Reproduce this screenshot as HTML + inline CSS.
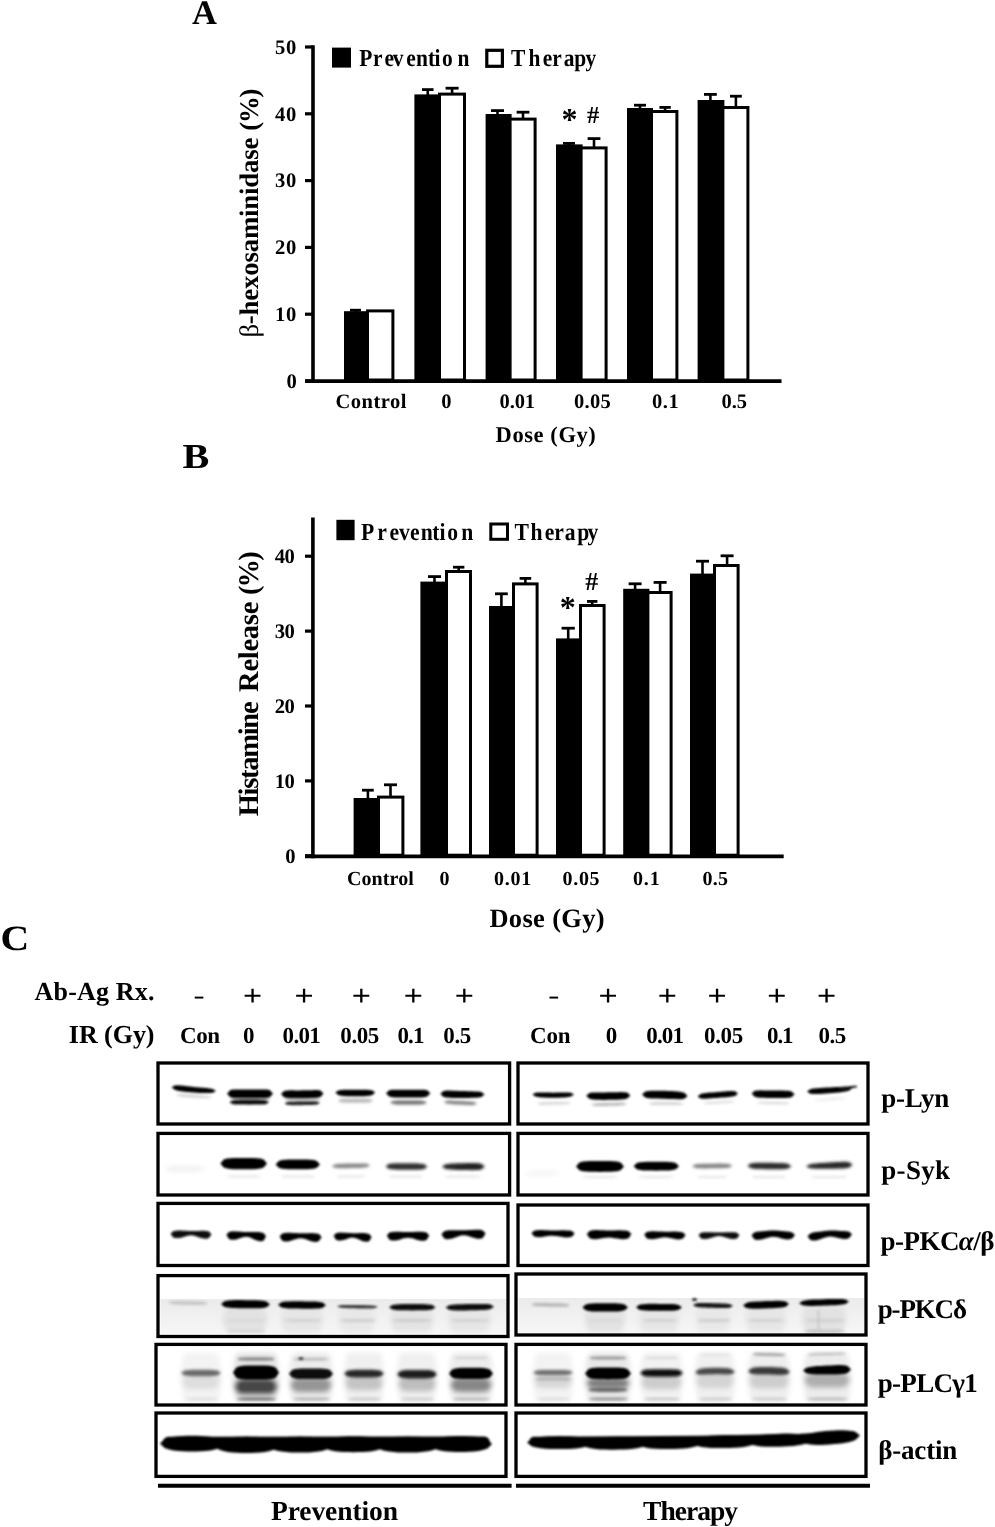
<!DOCTYPE html>
<html lang="en"><head><meta charset="utf-8"><title>Figure</title><style>html,body{margin:0;padding:0;background:#fff}svg{display:block}text{fill:#000;white-space:pre}</style></head>
<body>
<svg width="995" height="1527" viewBox="0 0 995 1527" text-rendering="geometricPrecision">
<defs><filter id="b1" filterUnits="userSpaceOnUse" x="140" y="1050" width="740" height="440"><feGaussianBlur stdDeviation="0.9"/></filter><filter id="b2" filterUnits="userSpaceOnUse" x="140" y="1050" width="740" height="440"><feGaussianBlur stdDeviation="1.5"/></filter><filter id="b3" filterUnits="userSpaceOnUse" x="140" y="1050" width="740" height="440"><feGaussianBlur stdDeviation="2.4"/></filter><filter id="bt" filterUnits="userSpaceOnUse" x="0" y="0" width="995" height="1527"><feGaussianBlur stdDeviation="0.45"/></filter><linearGradient id="gg" x1="0" y1="0" x2="0" y2="1"><stop offset="0" stop-color="#ebebeb"/><stop offset="0.5" stop-color="#f1f1f1"/><stop offset="1" stop-color="#f6f6f6"/></linearGradient></defs>
<rect x="0.00" y="0.00" width="995.00" height="1527.00" fill="#fff"/>
<g filter="url(#bt)">
<text x="192.10" y="24.00" style="font-family:'Liberation Serif',serif;font-weight:bold;font-size:34.50px;letter-spacing:0.000px;">A</text>
<text x="-0.00" y="0" style="font-family:'Liberation Serif',serif;font-weight:bold;font-size:35.00px;letter-spacing:0.000px;" transform="translate(182.40,467.80) scale(1.150,1)">B</text>
<text x="-0.00" y="0" style="font-family:'Liberation Serif',serif;font-weight:bold;font-size:35.50px;letter-spacing:0.000px;" transform="translate(0.60,950.20) scale(1.120,1)">C</text>
<g>
<rect x="344.00" y="311.20" width="25.00" height="70.00" fill="#000"/>
<rect x="367.50" y="310.90" width="25.40" height="69.10" fill="#fff" stroke="#000" stroke-width="3.0"/>
<line x1="355.50" y1="312.20" x2="355.50" y2="310.20" stroke="#000" stroke-width="2.6" stroke-linecap="butt"/>
<line x1="350.00" y1="310.20" x2="361.00" y2="310.20" stroke="#000" stroke-width="2.8" stroke-linecap="butt"/>
<rect x="414.40" y="94.40" width="26.60" height="286.80" fill="#000"/>
<rect x="439.50" y="94.10" width="25.00" height="285.90" fill="#fff" stroke="#000" stroke-width="3.0"/>
<line x1="427.75" y1="95.40" x2="427.75" y2="89.60" stroke="#000" stroke-width="2.6" stroke-linecap="butt"/>
<line x1="422.00" y1="89.60" x2="433.50" y2="89.60" stroke="#000" stroke-width="2.8" stroke-linecap="butt"/>
<line x1="452.10" y1="93.60" x2="452.10" y2="88.20" stroke="#000" stroke-width="2.6" stroke-linecap="butt"/>
<line x1="445.60" y1="88.20" x2="458.60" y2="88.20" stroke="#000" stroke-width="2.8" stroke-linecap="butt"/>
<rect x="485.60" y="114.00" width="26.00" height="267.20" fill="#000"/>
<rect x="510.10" y="119.10" width="25.00" height="260.90" fill="#fff" stroke="#000" stroke-width="3.0"/>
<line x1="497.50" y1="115.00" x2="497.50" y2="110.60" stroke="#000" stroke-width="2.6" stroke-linecap="butt"/>
<line x1="491.00" y1="110.60" x2="504.00" y2="110.60" stroke="#000" stroke-width="2.8" stroke-linecap="butt"/>
<line x1="523.00" y1="118.60" x2="523.00" y2="112.20" stroke="#000" stroke-width="2.6" stroke-linecap="butt"/>
<line x1="516.60" y1="112.20" x2="529.40" y2="112.20" stroke="#000" stroke-width="2.8" stroke-linecap="butt"/>
<rect x="556.00" y="144.40" width="26.60" height="236.80" fill="#000"/>
<rect x="581.10" y="147.90" width="25.00" height="232.10" fill="#fff" stroke="#000" stroke-width="3.0"/>
<line x1="569.00" y1="145.40" x2="569.00" y2="143.40" stroke="#000" stroke-width="2.6" stroke-linecap="butt"/>
<line x1="563.00" y1="143.40" x2="575.00" y2="143.40" stroke="#000" stroke-width="2.8" stroke-linecap="butt"/>
<line x1="594.00" y1="147.40" x2="594.00" y2="138.60" stroke="#000" stroke-width="2.6" stroke-linecap="butt"/>
<line x1="587.60" y1="138.60" x2="600.40" y2="138.60" stroke="#000" stroke-width="2.8" stroke-linecap="butt"/>
<rect x="627.00" y="108.00" width="26.00" height="273.20" fill="#000"/>
<rect x="651.50" y="111.50" width="25.40" height="268.50" fill="#fff" stroke="#000" stroke-width="3.0"/>
<line x1="640.00" y1="109.00" x2="640.00" y2="105.20" stroke="#000" stroke-width="2.6" stroke-linecap="butt"/>
<line x1="634.00" y1="105.20" x2="646.00" y2="105.20" stroke="#000" stroke-width="2.8" stroke-linecap="butt"/>
<line x1="665.10" y1="111.00" x2="665.10" y2="107.40" stroke="#000" stroke-width="2.6" stroke-linecap="butt"/>
<line x1="659.40" y1="107.40" x2="670.80" y2="107.40" stroke="#000" stroke-width="2.8" stroke-linecap="butt"/>
<rect x="697.60" y="100.00" width="26.80" height="281.20" fill="#000"/>
<rect x="722.90" y="107.50" width="25.00" height="272.50" fill="#fff" stroke="#000" stroke-width="3.0"/>
<line x1="710.40" y1="101.00" x2="710.40" y2="94.40" stroke="#000" stroke-width="2.6" stroke-linecap="butt"/>
<line x1="704.00" y1="94.40" x2="716.80" y2="94.40" stroke="#000" stroke-width="2.8" stroke-linecap="butt"/>
<line x1="735.90" y1="107.00" x2="735.90" y2="96.20" stroke="#000" stroke-width="2.6" stroke-linecap="butt"/>
<line x1="730.00" y1="96.20" x2="741.80" y2="96.20" stroke="#000" stroke-width="2.8" stroke-linecap="butt"/>
<line x1="313.00" y1="45.20" x2="313.00" y2="383.00" stroke="#000" stroke-width="3.6" stroke-linecap="butt"/>
<line x1="305.00" y1="381.20" x2="781.50" y2="381.20" stroke="#000" stroke-width="3.8" stroke-linecap="butt"/>
<line x1="305.00" y1="47.00" x2="313.00" y2="47.00" stroke="#000" stroke-width="3.2" stroke-linecap="butt"/>
<text x="275.00" y="53.80" style="font-family:'Liberation Serif',serif;font-weight:bold;font-size:20.60px;letter-spacing:0.600px;">50</text>
<line x1="305.00" y1="113.80" x2="313.00" y2="113.80" stroke="#000" stroke-width="3.2" stroke-linecap="butt"/>
<text x="275.00" y="120.60" style="font-family:'Liberation Serif',serif;font-weight:bold;font-size:20.60px;letter-spacing:0.600px;">40</text>
<line x1="305.00" y1="180.60" x2="313.00" y2="180.60" stroke="#000" stroke-width="3.2" stroke-linecap="butt"/>
<text x="275.00" y="187.40" style="font-family:'Liberation Serif',serif;font-weight:bold;font-size:20.60px;letter-spacing:0.600px;">30</text>
<line x1="305.00" y1="247.40" x2="313.00" y2="247.40" stroke="#000" stroke-width="3.2" stroke-linecap="butt"/>
<text x="275.00" y="254.20" style="font-family:'Liberation Serif',serif;font-weight:bold;font-size:20.60px;letter-spacing:0.600px;">20</text>
<line x1="305.00" y1="314.20" x2="313.00" y2="314.20" stroke="#000" stroke-width="3.2" stroke-linecap="butt"/>
<text x="275.00" y="321.00" style="font-family:'Liberation Serif',serif;font-weight:bold;font-size:20.60px;letter-spacing:0.600px;">10</text>
<line x1="305.00" y1="381.00" x2="313.00" y2="381.00" stroke="#000" stroke-width="3.2" stroke-linecap="butt"/>
<text x="286.40" y="387.80" style="font-family:'Liberation Serif',serif;font-weight:bold;font-size:20.60px;letter-spacing:0.000px;">0</text>
</g>
<rect x="332.00" y="47.60" width="19.00" height="20.00" fill="#000"/>
<text x="0.00 15.80 28.86 38.18 53.52 64.43 78.18 85.68 93.98 111.70" y="0" style="font-family:'Liberation Serif',serif;font-weight:bold;font-size:24.40px;" transform="translate(359.20,65.60) scale(0.880,1)">Prevention</text>
<rect x="486.80" y="50.30" width="15.60" height="16.00" fill="#fff" stroke="#000" stroke-width="3.2"/>
<text x="0.00 20.00 36.02 46.82 60.00 71.93 84.55" y="0" style="font-family:'Liberation Serif',serif;font-weight:bold;font-size:24.40px;" transform="translate(511.00,65.60) scale(0.880,1)">Therapy</text>
<text x="561.40" y="130.00" style="font-family:'Liberation Serif',serif;font-weight:bold;font-size:32.00px;letter-spacing:0.000px;">*</text>
<text x="587.00" y="122.50" style="font-family:'Liberation Serif',serif;font-weight:bold;font-size:24.50px;letter-spacing:0.000px;">#</text>
<text x="335.60" y="407.80" style="font-family:'Liberation Serif',serif;font-weight:bold;font-size:20.50px;letter-spacing:0.474px;">Control</text>
<text x="441.20" y="407.80" style="font-family:'Liberation Serif',serif;font-weight:bold;font-size:20.50px;letter-spacing:0.000px;">0</text>
<text x="499.60" y="407.80" style="font-family:'Liberation Serif',serif;font-weight:bold;font-size:20.50px;letter-spacing:-0.158px;">0.01</text>
<text x="574.00" y="407.80" style="font-family:'Liberation Serif',serif;font-weight:bold;font-size:20.50px;letter-spacing:0.308px;">0.05</text>
<text x="652.00" y="407.80" style="font-family:'Liberation Serif',serif;font-weight:bold;font-size:20.50px;letter-spacing:0.538px;">0.1</text>
<text x="721.40" y="407.80" style="font-family:'Liberation Serif',serif;font-weight:bold;font-size:20.50px;letter-spacing:-0.012px;">0.5</text>
<text x="495.60" y="441.70" style="font-family:'Liberation Serif',serif;font-weight:bold;font-size:22.50px;letter-spacing:0.572px;">Dose (Gy)</text>
<text x="-0.00" y="0" style="font-family:'Liberation Serif',serif;font-weight:bold;font-size:26.80px;letter-spacing:-0.185px;" transform="translate(258.20,337.60) rotate(-90)"><tspan style="font-weight:normal">β</tspan>-hexosaminidase</text>
<text x="-0.00" y="0" style="font-family:'Liberation Serif',serif;font-weight:bold;font-size:26.80px;letter-spacing:-1.161px;" transform="translate(258.20,130.80) rotate(-90)">(%)</text>
<g>
<rect x="353.60" y="798.00" width="26.40" height="58.40" fill="#000"/>
<rect x="378.50" y="797.10" width="24.40" height="58.10" fill="#fff" stroke="#000" stroke-width="3.0"/>
<line x1="367.90" y1="799.00" x2="367.90" y2="790.20" stroke="#000" stroke-width="2.6" stroke-linecap="butt"/>
<line x1="362.00" y1="790.20" x2="373.80" y2="790.20" stroke="#000" stroke-width="2.8" stroke-linecap="butt"/>
<line x1="390.50" y1="796.60" x2="390.50" y2="784.80" stroke="#000" stroke-width="2.6" stroke-linecap="butt"/>
<line x1="384.00" y1="784.80" x2="397.00" y2="784.80" stroke="#000" stroke-width="2.8" stroke-linecap="butt"/>
<rect x="420.40" y="581.60" width="27.60" height="274.80" fill="#000"/>
<rect x="446.50" y="571.50" width="24.00" height="283.70" fill="#fff" stroke="#000" stroke-width="3.0"/>
<line x1="434.50" y1="582.60" x2="434.50" y2="576.60" stroke="#000" stroke-width="2.6" stroke-linecap="butt"/>
<line x1="428.00" y1="576.60" x2="441.00" y2="576.60" stroke="#000" stroke-width="2.8" stroke-linecap="butt"/>
<line x1="458.70" y1="571.00" x2="458.70" y2="567.20" stroke="#000" stroke-width="2.6" stroke-linecap="butt"/>
<line x1="453.00" y1="567.20" x2="464.40" y2="567.20" stroke="#000" stroke-width="2.8" stroke-linecap="butt"/>
<rect x="489.00" y="606.00" width="26.00" height="250.40" fill="#000"/>
<rect x="513.50" y="583.90" width="23.60" height="271.30" fill="#fff" stroke="#000" stroke-width="3.0"/>
<line x1="501.40" y1="607.00" x2="501.40" y2="593.80" stroke="#000" stroke-width="2.6" stroke-linecap="butt"/>
<line x1="495.00" y1="593.80" x2="507.80" y2="593.80" stroke="#000" stroke-width="2.8" stroke-linecap="butt"/>
<line x1="525.40" y1="583.40" x2="525.40" y2="578.40" stroke="#000" stroke-width="2.6" stroke-linecap="butt"/>
<line x1="519.60" y1="578.40" x2="531.20" y2="578.40" stroke="#000" stroke-width="2.8" stroke-linecap="butt"/>
<rect x="556.00" y="638.40" width="26.00" height="218.00" fill="#000"/>
<rect x="580.50" y="605.50" width="23.60" height="249.70" fill="#fff" stroke="#000" stroke-width="3.0"/>
<line x1="568.20" y1="639.40" x2="568.20" y2="628.20" stroke="#000" stroke-width="2.6" stroke-linecap="butt"/>
<line x1="561.60" y1="628.20" x2="574.80" y2="628.20" stroke="#000" stroke-width="2.8" stroke-linecap="butt"/>
<line x1="592.20" y1="605.00" x2="592.20" y2="601.40" stroke="#000" stroke-width="2.6" stroke-linecap="butt"/>
<line x1="587.00" y1="601.40" x2="597.40" y2="601.40" stroke="#000" stroke-width="2.8" stroke-linecap="butt"/>
<rect x="623.20" y="588.80" width="26.20" height="267.60" fill="#000"/>
<rect x="647.90" y="592.50" width="23.20" height="262.70" fill="#fff" stroke="#000" stroke-width="3.0"/>
<line x1="635.10" y1="589.80" x2="635.10" y2="583.80" stroke="#000" stroke-width="2.6" stroke-linecap="butt"/>
<line x1="628.60" y1="583.80" x2="641.60" y2="583.80" stroke="#000" stroke-width="2.8" stroke-linecap="butt"/>
<line x1="660.10" y1="592.00" x2="660.10" y2="582.40" stroke="#000" stroke-width="2.6" stroke-linecap="butt"/>
<line x1="653.60" y1="582.40" x2="666.60" y2="582.40" stroke="#000" stroke-width="2.8" stroke-linecap="butt"/>
<rect x="690.00" y="573.60" width="26.00" height="282.80" fill="#000"/>
<rect x="714.50" y="565.50" width="23.60" height="289.70" fill="#fff" stroke="#000" stroke-width="3.0"/>
<line x1="702.50" y1="574.60" x2="702.50" y2="561.20" stroke="#000" stroke-width="2.6" stroke-linecap="butt"/>
<line x1="696.00" y1="561.20" x2="709.00" y2="561.20" stroke="#000" stroke-width="2.8" stroke-linecap="butt"/>
<line x1="727.10" y1="565.00" x2="727.10" y2="555.80" stroke="#000" stroke-width="2.6" stroke-linecap="butt"/>
<line x1="720.60" y1="555.80" x2="733.60" y2="555.80" stroke="#000" stroke-width="2.8" stroke-linecap="butt"/>
<line x1="312.90" y1="517.60" x2="312.90" y2="858.20" stroke="#000" stroke-width="3.6" stroke-linecap="butt"/>
<line x1="305.00" y1="856.40" x2="783.70" y2="856.40" stroke="#000" stroke-width="3.8" stroke-linecap="butt"/>
<line x1="305.00" y1="556.20" x2="312.90" y2="556.20" stroke="#000" stroke-width="3.2" stroke-linecap="butt"/>
<text x="274.70" y="563.00" style="font-family:'Liberation Serif',serif;font-weight:bold;font-size:20.60px;letter-spacing:-0.400px;">40</text>
<line x1="305.00" y1="631.10" x2="312.90" y2="631.10" stroke="#000" stroke-width="3.2" stroke-linecap="butt"/>
<text x="274.70" y="637.90" style="font-family:'Liberation Serif',serif;font-weight:bold;font-size:20.60px;letter-spacing:-0.400px;">30</text>
<line x1="305.00" y1="706.00" x2="312.90" y2="706.00" stroke="#000" stroke-width="3.2" stroke-linecap="butt"/>
<text x="274.70" y="712.80" style="font-family:'Liberation Serif',serif;font-weight:bold;font-size:20.60px;letter-spacing:-0.400px;">20</text>
<line x1="305.00" y1="780.90" x2="312.90" y2="780.90" stroke="#000" stroke-width="3.2" stroke-linecap="butt"/>
<text x="274.70" y="787.70" style="font-family:'Liberation Serif',serif;font-weight:bold;font-size:20.60px;letter-spacing:-0.400px;">10</text>
<line x1="305.00" y1="855.80" x2="312.90" y2="855.80" stroke="#000" stroke-width="3.2" stroke-linecap="butt"/>
<text x="285.30" y="862.60" style="font-family:'Liberation Serif',serif;font-weight:bold;font-size:20.60px;letter-spacing:0.000px;">0</text>
</g>
<rect x="336.40" y="519.80" width="18.20" height="20.40" fill="#000"/>
<text x="0.00 18.52 32.27 43.18 55.57 67.84 80.91 89.09 98.07 113.86" y="0" style="font-family:'Liberation Serif',serif;font-weight:bold;font-size:24.60px;" transform="translate(361.00,539.80) scale(0.880,1)">Prevention</text>
<rect x="490.80" y="524.00" width="16.70" height="15.30" fill="#fff" stroke="#000" stroke-width="3.0"/>
<text x="0.00 18.30 34.32 45.11 57.16 71.36 82.84" y="0" style="font-family:'Liberation Serif',serif;font-weight:bold;font-size:24.60px;" transform="translate(514.50,539.80) scale(0.880,1)">Therapy</text>
<text x="559.80" y="618.20" style="font-family:'Liberation Serif',serif;font-weight:bold;font-size:32.00px;letter-spacing:0.000px;">*</text>
<text x="585.20" y="590.00" style="font-family:'Liberation Serif',serif;font-weight:bold;font-size:26.00px;letter-spacing:0.000px;">#</text>
<text x="347.00" y="884.80" style="font-family:'Liberation Serif',serif;font-weight:bold;font-size:20.00px;letter-spacing:0.083px;">Control</text>
<text x="439.60" y="884.80" style="font-family:'Liberation Serif',serif;font-weight:bold;font-size:20.00px;letter-spacing:0.000px;">0</text>
<text x="494.00" y="884.80" style="font-family:'Liberation Serif',serif;font-weight:bold;font-size:20.00px;letter-spacing:0.733px;">0.01</text>
<text x="562.60" y="884.80" style="font-family:'Liberation Serif',serif;font-weight:bold;font-size:20.00px;letter-spacing:0.667px;">0.05</text>
<text x="633.00" y="884.80" style="font-family:'Liberation Serif',serif;font-weight:bold;font-size:20.00px;letter-spacing:0.850px;">0.1</text>
<text x="702.40" y="884.80" style="font-family:'Liberation Serif',serif;font-weight:bold;font-size:20.00px;letter-spacing:0.300px;">0.5</text>
<text x="489.40" y="926.90" style="font-family:'Liberation Serif',serif;font-weight:bold;font-size:26.50px;letter-spacing:0.334px;">Dose (Gy)</text>
<text x="-0.00" y="0" style="font-family:'Liberation Serif',serif;font-weight:bold;font-size:28.50px;letter-spacing:-1.277px;" transform="translate(258.20,816.30) rotate(-90)">Histamine</text>
<text x="-0.00" y="0" style="font-family:'Liberation Serif',serif;font-weight:bold;font-size:28.50px;letter-spacing:-0.262px;" transform="translate(258.20,691.90) rotate(-90)">Release</text>
<text x="-0.00" y="0" style="font-family:'Liberation Serif',serif;font-weight:bold;font-size:28.50px;letter-spacing:-1.876px;" transform="translate(258.20,595.10) rotate(-90)">(%)</text>
<text x="34.50" y="999.50" style="font-family:'Liberation Serif',serif;font-weight:bold;font-size:26.00px;letter-spacing:0.196px;">Ab-Ag Rx.</text>
<text x="68.80" y="1043.00" style="font-family:'Liberation Serif',serif;font-weight:bold;font-size:26.00px;letter-spacing:-0.038px;">IR (Gy)</text>
<text x="-0.00" y="0" style="font-family:'Liberation Serif',serif;font-weight:bold;font-size:23.00px;letter-spacing:0.000px;" transform="translate(193.60,1002.60) scale(1.450,1)">-</text>
<text x="-0.00" y="0" style="font-family:'Liberation Serif',serif;font-weight:bold;font-size:23.00px;letter-spacing:0.000px;" transform="translate(548.20,1002.60) scale(1.450,1)">-</text>
<text x="-0.00" y="0" style="font-family:'Liberation Sans',sans-serif;font-weight:normal;font-size:28.00px;letter-spacing:0.000px;" transform="translate(242.92,1004.60) scale(1.170,1)">+</text>
<text x="-0.00" y="0" style="font-family:'Liberation Sans',sans-serif;font-weight:normal;font-size:28.00px;letter-spacing:0.000px;" transform="translate(294.62,1004.60) scale(1.170,1)">+</text>
<text x="-0.00" y="0" style="font-family:'Liberation Sans',sans-serif;font-weight:normal;font-size:28.00px;letter-spacing:0.000px;" transform="translate(351.72,1004.60) scale(1.170,1)">+</text>
<text x="-0.00" y="0" style="font-family:'Liberation Sans',sans-serif;font-weight:normal;font-size:28.00px;letter-spacing:0.000px;" transform="translate(403.72,1004.60) scale(1.170,1)">+</text>
<text x="-0.00" y="0" style="font-family:'Liberation Sans',sans-serif;font-weight:normal;font-size:28.00px;letter-spacing:0.000px;" transform="translate(454.82,1004.60) scale(1.170,1)">+</text>
<text x="-0.00" y="0" style="font-family:'Liberation Sans',sans-serif;font-weight:normal;font-size:28.00px;letter-spacing:0.000px;" transform="translate(598.62,1004.60) scale(1.170,1)">+</text>
<text x="-0.00" y="0" style="font-family:'Liberation Sans',sans-serif;font-weight:normal;font-size:28.00px;letter-spacing:0.000px;" transform="translate(657.82,1004.60) scale(1.170,1)">+</text>
<text x="-0.00" y="0" style="font-family:'Liberation Sans',sans-serif;font-weight:normal;font-size:28.00px;letter-spacing:0.000px;" transform="translate(707.42,1004.60) scale(1.170,1)">+</text>
<text x="-0.00" y="0" style="font-family:'Liberation Sans',sans-serif;font-weight:normal;font-size:28.00px;letter-spacing:0.000px;" transform="translate(767.22,1004.60) scale(1.170,1)">+</text>
<text x="-0.00" y="0" style="font-family:'Liberation Sans',sans-serif;font-weight:normal;font-size:28.00px;letter-spacing:0.000px;" transform="translate(817.12,1004.60) scale(1.170,1)">+</text>
<text x="180.00" y="1043.20" style="font-family:'Liberation Serif',serif;font-weight:bold;font-size:23.00px;letter-spacing:-0.470px;">Con</text>
<text x="243.00" y="1043.20" style="font-family:'Liberation Serif',serif;font-weight:bold;font-size:23.00px;letter-spacing:0.000px;">0</text>
<text x="282.60" y="1043.20" style="font-family:'Liberation Serif',serif;font-weight:bold;font-size:23.00px;letter-spacing:-0.717px;">0.01</text>
<text x="340.30" y="1043.20" style="font-family:'Liberation Serif',serif;font-weight:bold;font-size:23.00px;letter-spacing:-0.417px;">0.05</text>
<text x="397.40" y="1043.20" style="font-family:'Liberation Serif',serif;font-weight:bold;font-size:23.00px;letter-spacing:-0.875px;">0.1</text>
<text x="443.30" y="1043.20" style="font-family:'Liberation Serif',serif;font-weight:bold;font-size:23.00px;letter-spacing:-0.375px;">0.5</text>
<text x="530.00" y="1043.20" style="font-family:'Liberation Serif',serif;font-weight:bold;font-size:23.00px;letter-spacing:-0.170px;">Con</text>
<text x="605.80" y="1043.20" style="font-family:'Liberation Serif',serif;font-weight:bold;font-size:23.00px;letter-spacing:0.000px;">0</text>
<text x="646.30" y="1043.20" style="font-family:'Liberation Serif',serif;font-weight:bold;font-size:23.00px;letter-spacing:-0.883px;">0.01</text>
<text x="704.00" y="1043.20" style="font-family:'Liberation Serif',serif;font-weight:bold;font-size:23.00px;letter-spacing:-0.350px;">0.05</text>
<text x="767.00" y="1043.20" style="font-family:'Liberation Serif',serif;font-weight:bold;font-size:23.00px;letter-spacing:-1.125px;">0.1</text>
<text x="818.60" y="1043.20" style="font-family:'Liberation Serif',serif;font-weight:bold;font-size:23.00px;letter-spacing:-0.575px;">0.5</text>
<text x="881.30" y="1106.70" style="font-family:'Liberation Serif',serif;font-weight:bold;font-size:27.00px;letter-spacing:-0.246px;">p-Lyn</text>
<text x="881.30" y="1179.40" style="font-family:'Liberation Serif',serif;font-weight:bold;font-size:27.00px;letter-spacing:0.300px;">p-Syk</text>
<text x="880.6" y="1250" style="font-family:'Liberation Serif',serif;font-weight:bold;font-size:27px;letter-spacing:-0.55px">p-PKC<tspan style="font-style:italic">α</tspan>/β</text>
<text x="877.70" y="1317.50" style="font-family:'Liberation Serif',serif;font-weight:bold;font-size:27.00px;letter-spacing:-1.148px;">p-PKCδ</text>
<text x="877.70" y="1391.70" style="font-family:'Liberation Serif',serif;font-weight:bold;font-size:27.00px;letter-spacing:-0.681px;">p-PLCγ1</text>
<text x="878.30" y="1458.50" style="font-family:'Liberation Serif',serif;font-weight:bold;font-size:27.00px;letter-spacing:-0.215px;">β-actin</text>
<text x="271.00" y="1520.40" style="font-family:'Liberation Serif',serif;font-weight:bold;font-size:27.50px;letter-spacing:-0.097px;">Prevention</text>
<text x="643.00" y="1520.40" style="font-family:'Liberation Serif',serif;font-weight:bold;font-size:27.50px;letter-spacing:-0.965px;">Therapy</text>
</g>
<rect x="160.50" y="1299.00" width="345.50" height="35.50" fill="url(#gg)"/>
<rect x="518.50" y="1298.00" width="345.50" height="35.00" fill="url(#gg)"/>
<g filter="url(#b3)">
<path d="M165.0,1169.0 167.9,1167.2 170.7,1166.8 173.6,1166.6 176.4,1166.5 179.3,1166.5 182.1,1166.5 185.0,1166.5 187.9,1166.5 190.7,1166.5 193.6,1166.5 196.4,1166.6 199.3,1166.8 202.1,1167.2 205.0,1169.0 205.0,1169.0 202.1,1170.8 199.3,1171.2 196.4,1171.4 193.6,1171.5 190.7,1171.5 187.9,1171.5 185.0,1171.5 182.1,1171.5 179.3,1171.5 176.4,1171.5 173.6,1171.4 170.7,1171.2 167.9,1170.8 165.0,1169.0Z" fill="#eeeeee"/>
<path d="M222.0,1319.0 225.3,1308.1 228.6,1306.4 231.9,1306.1 235.1,1306.0 238.4,1306.0 241.7,1306.0 245.0,1306.0 248.3,1306.0 251.6,1306.0 254.9,1306.0 258.1,1306.1 261.4,1306.4 264.7,1308.1 268.0,1319.0 268.0,1319.0 264.7,1329.9 261.4,1331.6 258.1,1331.9 254.9,1332.0 251.6,1332.0 248.3,1332.0 245.0,1332.0 241.7,1332.0 238.4,1332.0 235.1,1332.0 231.9,1331.9 228.6,1331.6 225.3,1329.9 222.0,1319.0Z" fill="#e2e2e2"/>
<path d="M280.0,1319.0 283.1,1308.1 286.3,1306.4 289.4,1306.1 292.6,1306.0 295.7,1306.0 298.9,1306.0 302.0,1306.0 305.1,1306.0 308.3,1306.0 311.4,1306.0 314.6,1306.1 317.7,1306.4 320.9,1308.1 324.0,1319.0 324.0,1319.0 320.9,1329.9 317.7,1331.6 314.6,1331.9 311.4,1332.0 308.3,1332.0 305.1,1332.0 302.0,1332.0 298.9,1332.0 295.7,1332.0 292.6,1332.0 289.4,1331.9 286.3,1331.6 283.1,1329.9 280.0,1319.0Z" fill="#e6e6e6"/>
<path d="M338.0,1319.0 340.7,1308.1 343.4,1306.4 346.1,1306.1 348.9,1306.0 351.6,1306.0 354.3,1306.0 357.0,1306.0 359.7,1306.0 362.4,1306.0 365.1,1306.0 367.9,1306.1 370.6,1306.4 373.3,1308.1 376.0,1319.0 376.0,1319.0 373.3,1329.9 370.6,1331.6 367.9,1331.9 365.1,1332.0 362.4,1332.0 359.7,1332.0 357.0,1332.0 354.3,1332.0 351.6,1332.0 348.9,1332.0 346.1,1331.9 343.4,1331.6 340.7,1329.9 338.0,1319.0Z" fill="#e8e8e8"/>
<path d="M390.0,1319.0 393.1,1308.1 396.3,1306.4 399.4,1306.1 402.6,1306.0 405.7,1306.0 408.9,1306.0 412.0,1306.0 415.1,1306.0 418.3,1306.0 421.4,1306.0 424.6,1306.1 427.7,1306.4 430.9,1308.1 434.0,1319.0 434.0,1319.0 430.9,1329.9 427.7,1331.6 424.6,1331.9 421.4,1332.0 418.3,1332.0 415.1,1332.0 412.0,1332.0 408.9,1332.0 405.7,1332.0 402.6,1332.0 399.4,1331.9 396.3,1331.6 393.1,1329.9 390.0,1319.0Z" fill="#e4e4e4"/>
<path d="M447.0,1319.0 450.2,1308.1 453.4,1306.4 456.6,1306.1 459.9,1306.0 463.1,1306.0 466.3,1306.0 469.5,1306.0 472.7,1306.0 475.9,1306.0 479.1,1306.0 482.4,1306.1 485.6,1306.4 488.8,1308.1 492.0,1319.0 492.0,1319.0 488.8,1329.9 485.6,1331.6 482.4,1331.9 479.1,1332.0 475.9,1332.0 472.7,1332.0 469.5,1332.0 466.3,1332.0 463.1,1332.0 459.9,1332.0 456.6,1331.9 453.4,1331.6 450.2,1329.9 447.0,1319.0Z" fill="#e6e6e6"/>
<path d="M180.0,1377.5 183.0,1355.3 186.0,1352.9 189.0,1352.5 192.0,1352.5 195.0,1352.5 198.0,1352.5 201.0,1352.5 204.0,1352.5 207.0,1352.5 210.0,1352.5 213.0,1352.5 216.0,1352.9 219.0,1355.3 222.0,1377.5 222.0,1377.5 219.0,1399.7 216.0,1402.1 213.0,1402.5 210.0,1402.5 207.0,1402.5 204.0,1402.5 201.0,1402.5 198.0,1402.5 195.0,1402.5 192.0,1402.5 189.0,1402.5 186.0,1402.1 183.0,1399.7 180.0,1377.5Z" fill="#f3f3f3"/>
<path d="M182.0,1381.7 184.7,1375.9 187.4,1374.7 190.1,1374.3 192.9,1374.2 195.6,1374.2 198.3,1374.2 201.0,1374.2 203.7,1374.2 206.4,1374.2 209.1,1374.2 211.9,1374.3 214.6,1374.7 217.3,1375.9 220.0,1381.7 220.0,1381.7 217.3,1387.5 214.6,1388.7 211.9,1389.1 209.1,1389.2 206.4,1389.2 203.7,1389.2 201.0,1389.2 198.3,1389.2 195.6,1389.2 192.9,1389.2 190.1,1389.1 187.4,1388.7 184.7,1387.5 182.0,1381.7Z" fill="#dedede"/>
<path d="M232.0,1377.5 235.4,1355.3 238.9,1352.9 242.3,1352.5 245.7,1352.5 249.1,1352.5 252.6,1352.5 256.0,1352.5 259.4,1352.5 262.9,1352.5 266.3,1352.5 269.7,1352.5 273.1,1352.9 276.6,1355.3 280.0,1377.5 280.0,1377.5 276.6,1399.7 273.1,1402.1 269.7,1402.5 266.3,1402.5 262.9,1402.5 259.4,1402.5 256.0,1402.5 252.6,1402.5 249.1,1402.5 245.7,1402.5 242.3,1402.5 238.9,1402.1 235.4,1399.7 232.0,1377.5Z" fill="#e4e4e4"/>
<path d="M234.0,1386.6 237.1,1380.0 240.3,1378.7 243.4,1378.2 246.6,1378.1 249.7,1378.1 252.9,1378.1 256.0,1378.1 259.1,1378.1 262.3,1378.1 265.4,1378.1 268.6,1378.2 271.7,1378.7 274.9,1380.0 278.0,1386.6 278.0,1386.6 274.9,1393.2 271.7,1394.5 268.6,1395.0 265.4,1395.1 262.3,1395.1 259.1,1395.1 256.0,1395.1 252.9,1395.1 249.7,1395.1 246.6,1395.1 243.4,1395.0 240.3,1394.5 237.1,1393.2 234.0,1386.6Z" fill="#464646"/>
<path d="M288.0,1377.5 291.3,1355.3 294.6,1352.9 297.9,1352.5 301.1,1352.5 304.4,1352.5 307.7,1352.5 311.0,1352.5 314.3,1352.5 317.6,1352.5 320.9,1352.5 324.1,1352.5 327.4,1352.9 330.7,1355.3 334.0,1377.5 334.0,1377.5 330.7,1399.7 327.4,1402.1 324.1,1402.5 320.9,1402.5 317.6,1402.5 314.3,1402.5 311.0,1402.5 307.7,1402.5 304.4,1402.5 301.1,1402.5 297.9,1402.5 294.6,1402.1 291.3,1399.7 288.0,1377.5Z" fill="#ececec"/>
<path d="M290.0,1385.0 293.0,1379.2 296.0,1378.0 299.0,1377.6 302.0,1377.5 305.0,1377.5 308.0,1377.5 311.0,1377.5 314.0,1377.5 317.0,1377.5 320.0,1377.5 323.0,1377.6 326.0,1378.0 329.0,1379.2 332.0,1385.0 332.0,1385.0 329.0,1390.8 326.0,1392.0 323.0,1392.4 320.0,1392.5 317.0,1392.5 314.0,1392.5 311.0,1392.5 308.0,1392.5 305.0,1392.5 302.0,1392.5 299.0,1392.4 296.0,1392.0 293.0,1390.8 290.0,1385.0Z" fill="#969696"/>
<path d="M343.0,1377.5 346.0,1355.3 349.0,1352.9 352.0,1352.5 355.0,1352.5 358.0,1352.5 361.0,1352.5 364.0,1352.5 367.0,1352.5 370.0,1352.5 373.0,1352.5 376.0,1352.5 379.0,1352.9 382.0,1355.3 385.0,1377.5 385.0,1377.5 382.0,1399.7 379.0,1402.1 376.0,1402.5 373.0,1402.5 370.0,1402.5 367.0,1402.5 364.0,1402.5 361.0,1402.5 358.0,1402.5 355.0,1402.5 352.0,1402.5 349.0,1402.1 346.0,1399.7 343.0,1377.5Z" fill="#f0f0f0"/>
<path d="M345.0,1382.9 347.7,1377.1 350.4,1375.9 353.1,1375.5 355.9,1375.4 358.6,1375.4 361.3,1375.4 364.0,1375.4 366.7,1375.4 369.4,1375.4 372.1,1375.4 374.9,1375.5 377.6,1375.9 380.3,1377.1 383.0,1382.9 383.0,1382.9 380.3,1388.7 377.6,1389.9 374.9,1390.3 372.1,1390.4 369.4,1390.4 366.7,1390.4 364.0,1390.4 361.3,1390.4 358.6,1390.4 355.9,1390.4 353.1,1390.3 350.4,1389.9 347.7,1388.7 345.0,1382.9Z" fill="#c4c4c4"/>
<path d="M396.0,1377.5 399.0,1355.3 402.0,1352.9 405.0,1352.5 408.0,1352.5 411.0,1352.5 414.0,1352.5 417.0,1352.5 420.0,1352.5 423.0,1352.5 426.0,1352.5 429.0,1352.5 432.0,1352.9 435.0,1355.3 438.0,1377.5 438.0,1377.5 435.0,1399.7 432.0,1402.1 429.0,1402.5 426.0,1402.5 423.0,1402.5 420.0,1402.5 417.0,1402.5 414.0,1402.5 411.0,1402.5 408.0,1402.5 405.0,1402.5 402.0,1402.1 399.0,1399.7 396.0,1377.5Z" fill="#f0f0f0"/>
<path d="M398.0,1384.0 400.7,1378.2 403.4,1377.0 406.1,1376.6 408.9,1376.5 411.6,1376.5 414.3,1376.5 417.0,1376.5 419.7,1376.5 422.4,1376.5 425.1,1376.5 427.9,1376.6 430.6,1377.0 433.3,1378.2 436.0,1384.0 436.0,1384.0 433.3,1389.8 430.6,1391.0 427.9,1391.4 425.1,1391.5 422.4,1391.5 419.7,1391.5 417.0,1391.5 414.3,1391.5 411.6,1391.5 408.9,1391.5 406.1,1391.4 403.4,1391.0 400.7,1389.8 398.0,1384.0Z" fill="#bebebe"/>
<path d="M448.0,1377.5 451.3,1355.3 454.6,1352.9 457.9,1352.5 461.1,1352.5 464.4,1352.5 467.7,1352.5 471.0,1352.5 474.3,1352.5 477.6,1352.5 480.9,1352.5 484.1,1352.5 487.4,1352.9 490.7,1355.3 494.0,1377.5 494.0,1377.5 490.7,1399.7 487.4,1402.1 484.1,1402.5 480.9,1402.5 477.6,1402.5 474.3,1402.5 471.0,1402.5 467.7,1402.5 464.4,1402.5 461.1,1402.5 457.9,1402.5 454.6,1402.1 451.3,1399.7 448.0,1377.5Z" fill="#ececec"/>
<path d="M450.0,1384.9 453.0,1379.1 456.0,1377.9 459.0,1377.5 462.0,1377.4 465.0,1377.4 468.0,1377.4 471.0,1377.4 474.0,1377.4 477.0,1377.4 480.0,1377.4 483.0,1377.5 486.0,1377.9 489.0,1379.1 492.0,1384.9 492.0,1384.9 489.0,1390.7 486.0,1391.9 483.0,1392.3 480.0,1392.4 477.0,1392.4 474.0,1392.4 471.0,1392.4 468.0,1392.4 465.0,1392.4 462.0,1392.4 459.0,1392.3 456.0,1391.9 453.0,1390.7 450.0,1384.9Z" fill="#878787"/>
<path d="M524.0,1174.0 526.6,1172.5 529.1,1172.1 531.7,1171.9 534.3,1171.7 536.9,1171.6 539.4,1171.6 542.0,1171.5 544.6,1171.4 547.1,1171.4 549.7,1171.3 552.3,1171.3 554.9,1171.4 557.4,1171.7 560.0,1173.0 560.0,1173.0 557.4,1174.5 554.9,1174.9 552.3,1175.1 549.7,1175.3 547.1,1175.4 544.6,1175.4 542.0,1175.5 539.4,1175.6 536.9,1175.6 534.3,1175.7 531.7,1175.7 529.1,1175.6 526.6,1175.3 524.0,1174.0Z" fill="#f2f2f2"/>
<path d="M584.0,1319.0 587.0,1308.1 590.0,1306.4 593.0,1306.1 596.0,1306.0 599.0,1306.0 602.0,1306.0 605.0,1306.0 608.0,1306.0 611.0,1306.0 614.0,1306.0 617.0,1306.1 620.0,1306.4 623.0,1308.1 626.0,1319.0 626.0,1319.0 623.0,1329.9 620.0,1331.6 617.0,1331.9 614.0,1332.0 611.0,1332.0 608.0,1332.0 605.0,1332.0 602.0,1332.0 599.0,1332.0 596.0,1332.0 593.0,1331.9 590.0,1331.6 587.0,1329.9 584.0,1319.0Z" fill="#e2e2e2"/>
<path d="M638.0,1319.0 641.0,1308.1 644.0,1306.4 647.0,1306.1 650.0,1306.0 653.0,1306.0 656.0,1306.0 659.0,1306.0 662.0,1306.0 665.0,1306.0 668.0,1306.0 671.0,1306.1 674.0,1306.4 677.0,1308.1 680.0,1319.0 680.0,1319.0 677.0,1329.9 674.0,1331.6 671.0,1331.9 668.0,1332.0 665.0,1332.0 662.0,1332.0 659.0,1332.0 656.0,1332.0 653.0,1332.0 650.0,1332.0 647.0,1331.9 644.0,1331.6 641.0,1329.9 638.0,1319.0Z" fill="#e6e6e6"/>
<path d="M695.0,1319.0 697.6,1308.1 700.1,1306.4 702.7,1306.1 705.3,1306.0 707.9,1306.0 710.4,1306.0 713.0,1306.0 715.6,1306.0 718.1,1306.0 720.7,1306.0 723.3,1306.1 725.9,1306.4 728.4,1308.1 731.0,1319.0 731.0,1319.0 728.4,1329.9 725.9,1331.6 723.3,1331.9 720.7,1332.0 718.1,1332.0 715.6,1332.0 713.0,1332.0 710.4,1332.0 707.9,1332.0 705.3,1332.0 702.7,1331.9 700.1,1331.6 697.6,1329.9 695.0,1319.0Z" fill="#e8e8e8"/>
<path d="M745.0,1319.0 748.0,1308.1 751.0,1306.4 754.0,1306.1 757.0,1306.0 760.0,1306.0 763.0,1306.0 766.0,1306.0 769.0,1306.0 772.0,1306.0 775.0,1306.0 778.0,1306.1 781.0,1306.4 784.0,1308.1 787.0,1319.0 787.0,1319.0 784.0,1329.9 781.0,1331.6 778.0,1331.9 775.0,1332.0 772.0,1332.0 769.0,1332.0 766.0,1332.0 763.0,1332.0 760.0,1332.0 757.0,1332.0 754.0,1331.9 751.0,1331.6 748.0,1329.9 745.0,1319.0Z" fill="#e6e6e6"/>
<path d="M801.0,1319.0 804.3,1308.1 807.6,1306.4 810.9,1306.1 814.1,1306.0 817.4,1306.0 820.7,1306.0 824.0,1306.0 827.3,1306.0 830.6,1306.0 833.9,1306.0 837.1,1306.1 840.4,1306.4 843.7,1308.1 847.0,1319.0 847.0,1319.0 843.7,1329.9 840.4,1331.6 837.1,1331.9 833.9,1332.0 830.6,1332.0 827.3,1332.0 824.0,1332.0 820.7,1332.0 817.4,1332.0 814.1,1332.0 810.9,1331.9 807.6,1331.6 804.3,1329.9 801.0,1319.0Z" fill="#e2e2e2"/>
<path d="M532.0,1377.5 535.0,1355.3 538.0,1352.9 541.0,1352.5 544.0,1352.5 547.0,1352.5 550.0,1352.5 553.0,1352.5 556.0,1352.5 559.0,1352.5 562.0,1352.5 565.0,1352.5 568.0,1352.9 571.0,1355.3 574.0,1377.5 574.0,1377.5 571.0,1399.7 568.0,1402.1 565.0,1402.5 562.0,1402.5 559.0,1402.5 556.0,1402.5 553.0,1402.5 550.0,1402.5 547.0,1402.5 544.0,1402.5 541.0,1402.5 538.0,1402.1 535.0,1399.7 532.0,1377.5Z" fill="#f3f3f3"/>
<path d="M534.0,1380.8 536.7,1375.0 539.4,1373.8 542.1,1373.4 544.9,1373.3 547.6,1373.3 550.3,1373.3 553.0,1373.3 555.7,1373.3 558.4,1373.3 561.1,1373.3 563.9,1373.4 566.6,1373.8 569.3,1375.0 572.0,1380.8 572.0,1380.8 569.3,1386.6 566.6,1387.8 563.9,1388.2 561.1,1388.3 558.4,1388.3 555.7,1388.3 553.0,1388.3 550.3,1388.3 547.6,1388.3 544.9,1388.3 542.1,1388.2 539.4,1387.8 536.7,1386.6 534.0,1380.8Z" fill="#d7d7d7"/>
<path d="M584.0,1377.5 587.4,1355.3 590.9,1352.9 594.3,1352.5 597.7,1352.5 601.1,1352.5 604.6,1352.5 608.0,1352.5 611.4,1352.5 614.9,1352.5 618.3,1352.5 621.7,1352.5 625.1,1352.9 628.6,1355.3 632.0,1377.5 632.0,1377.5 628.6,1399.7 625.1,1402.1 621.7,1402.5 618.3,1402.5 614.9,1402.5 611.4,1402.5 608.0,1402.5 604.6,1402.5 601.1,1402.5 597.7,1402.5 594.3,1402.5 590.9,1402.1 587.4,1399.7 584.0,1377.5Z" fill="#e8e8e8"/>
<path d="M586.0,1383.2 589.1,1378.9 592.3,1378.1 595.4,1377.8 598.6,1377.7 601.7,1377.7 604.9,1377.7 608.0,1377.7 611.1,1377.7 614.3,1377.7 617.4,1377.7 620.6,1377.8 623.7,1378.1 626.9,1378.9 630.0,1383.2 630.0,1383.2 626.9,1387.5 623.7,1388.3 620.6,1388.6 617.4,1388.7 614.3,1388.7 611.1,1388.7 608.0,1388.7 604.9,1388.7 601.7,1388.7 598.6,1388.7 595.4,1388.6 592.3,1388.3 589.1,1387.5 586.0,1383.2Z" fill="#7d7d7d"/>
<path d="M639.0,1377.5 642.2,1355.3 645.4,1352.9 648.6,1352.5 651.9,1352.5 655.1,1352.5 658.3,1352.5 661.5,1352.5 664.7,1352.5 667.9,1352.5 671.1,1352.5 674.4,1352.5 677.6,1352.9 680.8,1355.3 684.0,1377.5 684.0,1377.5 680.8,1399.7 677.6,1402.1 674.4,1402.5 671.1,1402.5 667.9,1402.5 664.7,1402.5 661.5,1402.5 658.3,1402.5 655.1,1402.5 651.9,1402.5 648.6,1402.5 645.4,1402.1 642.2,1399.7 639.0,1377.5Z" fill="#f2f2f2"/>
<path d="M641.0,1382.3 643.9,1376.5 646.9,1375.3 649.8,1374.9 652.7,1374.8 655.6,1374.8 658.6,1374.8 661.5,1374.8 664.4,1374.8 667.4,1374.8 670.3,1374.8 673.2,1374.9 676.1,1375.3 679.1,1376.5 682.0,1382.3 682.0,1382.3 679.1,1388.1 676.1,1389.3 673.2,1389.7 670.3,1389.8 667.4,1389.8 664.4,1389.8 661.5,1389.8 658.6,1389.8 655.6,1389.8 652.7,1389.8 649.8,1389.7 646.9,1389.3 643.9,1388.1 641.0,1382.3Z" fill="#cdcdcd"/>
<path d="M694.0,1377.5 697.0,1355.3 700.0,1352.9 703.0,1352.5 706.0,1352.5 709.0,1352.5 712.0,1352.5 715.0,1352.5 718.0,1352.5 721.0,1352.5 724.0,1352.5 727.0,1352.5 730.0,1352.9 733.0,1355.3 736.0,1377.5 736.0,1377.5 733.0,1399.7 730.0,1402.1 727.0,1402.5 724.0,1402.5 721.0,1402.5 718.0,1402.5 715.0,1402.5 712.0,1402.5 709.0,1402.5 706.0,1402.5 703.0,1402.5 700.0,1402.1 697.0,1399.7 694.0,1377.5Z" fill="#f0f0f0"/>
<path d="M696.0,1381.0 698.7,1375.2 701.4,1374.0 704.1,1373.6 706.9,1373.5 709.6,1373.5 712.3,1373.5 715.0,1373.5 717.7,1373.5 720.4,1373.5 723.1,1373.5 725.9,1373.6 728.6,1374.0 731.3,1375.2 734.0,1381.0 734.0,1381.0 731.3,1386.8 728.6,1388.0 725.9,1388.4 723.1,1388.5 720.4,1388.5 717.7,1388.5 715.0,1388.5 712.3,1388.5 709.6,1388.5 706.9,1388.5 704.1,1388.4 701.4,1388.0 698.7,1386.8 696.0,1381.0Z" fill="#d4d4d4"/>
<path d="M747.0,1377.5 750.1,1355.3 753.3,1352.9 756.4,1352.5 759.6,1352.5 762.7,1352.5 765.9,1352.5 769.0,1352.5 772.1,1352.5 775.3,1352.5 778.4,1352.5 781.6,1352.5 784.7,1352.9 787.9,1355.3 791.0,1377.5 791.0,1377.5 787.9,1399.7 784.7,1402.1 781.6,1402.5 778.4,1402.5 775.3,1402.5 772.1,1402.5 769.0,1402.5 765.9,1402.5 762.7,1402.5 759.6,1402.5 756.4,1402.5 753.3,1402.1 750.1,1399.7 747.0,1377.5Z" fill="#eeeeee"/>
<path d="M749.0,1380.9 751.9,1375.1 754.7,1373.9 757.6,1373.5 760.4,1373.4 763.3,1373.4 766.1,1373.4 769.0,1373.4 771.9,1373.4 774.7,1373.4 777.6,1373.4 780.4,1373.5 783.3,1373.9 786.1,1375.1 789.0,1380.9 789.0,1380.9 786.1,1386.7 783.3,1387.9 780.4,1388.3 777.6,1388.4 774.7,1388.4 771.9,1388.4 769.0,1388.4 766.1,1388.4 763.3,1388.4 760.4,1388.4 757.6,1388.3 754.7,1387.9 751.9,1386.7 749.0,1380.9Z" fill="#cdcdcd"/>
<path d="M802.0,1377.5 805.6,1355.3 809.1,1352.9 812.7,1352.5 816.3,1352.5 819.9,1352.5 823.4,1352.5 827.0,1352.5 830.6,1352.5 834.1,1352.5 837.7,1352.5 841.3,1352.5 844.9,1352.9 848.4,1355.3 852.0,1377.5 852.0,1377.5 848.4,1399.7 844.9,1402.1 841.3,1402.5 837.7,1402.5 834.1,1402.5 830.6,1402.5 827.0,1402.5 823.4,1402.5 819.9,1402.5 816.3,1402.5 812.7,1402.5 809.1,1402.1 805.6,1399.7 802.0,1377.5Z" fill="#ececec"/>
<path d="M804.0,1380.3 807.3,1374.5 810.6,1373.3 813.9,1372.9 817.1,1372.8 820.4,1372.8 823.7,1372.8 827.0,1372.8 830.3,1372.8 833.6,1372.8 836.9,1372.8 840.1,1372.9 843.4,1373.3 846.7,1374.5 850.0,1380.3 850.0,1380.3 846.7,1386.1 843.4,1387.3 840.1,1387.7 836.9,1387.8 833.6,1387.8 830.3,1387.8 827.0,1387.8 823.7,1387.8 820.4,1387.8 817.1,1387.8 813.9,1387.7 810.6,1387.3 807.3,1386.1 804.0,1380.3Z" fill="#afafaf"/>
</g>
<g filter="url(#b2)">
<path d="M176.0,1095.0 178.6,1094.3 181.1,1094.3 183.7,1094.4 186.3,1094.5 188.9,1094.7 191.4,1094.8 194.0,1095.0 196.6,1095.2 199.1,1095.3 201.7,1095.5 204.3,1095.7 206.9,1096.0 209.4,1096.4 212.0,1097.4 212.0,1097.4 209.4,1098.1 206.9,1098.1 204.3,1098.0 201.7,1097.9 199.1,1097.7 196.6,1097.6 194.0,1097.4 191.4,1097.2 188.9,1097.1 186.3,1096.9 183.7,1096.7 181.1,1096.4 178.6,1096.0 176.0,1095.0Z" fill="#c8c8c8"/>
<path d="M230.0,1098.9 232.9,1098.2 235.9,1098.0 238.8,1097.9 241.7,1097.9 244.6,1097.9 247.6,1097.9 250.5,1097.9 253.4,1097.9 256.4,1097.9 259.3,1097.9 262.2,1097.9 265.1,1098.0 268.1,1098.2 271.0,1098.9 271.0,1098.9 268.1,1099.6 265.1,1099.8 262.2,1099.9 259.3,1099.9 256.4,1099.9 253.4,1099.9 250.5,1099.9 247.6,1099.9 244.6,1099.9 241.7,1099.9 238.8,1099.9 235.9,1099.8 232.9,1099.6 230.0,1098.9Z" fill="#6e6e6e"/>
<path d="M284.0,1099.3 286.6,1098.6 289.3,1098.4 291.9,1098.3 294.6,1098.3 297.2,1098.3 299.9,1098.3 302.5,1098.3 305.1,1098.3 307.8,1098.3 310.4,1098.3 313.1,1098.3 315.7,1098.4 318.4,1098.6 321.0,1099.3 321.0,1099.3 318.4,1100.0 315.7,1100.2 313.1,1100.3 310.4,1100.3 307.8,1100.3 305.1,1100.3 302.5,1100.3 299.9,1100.3 297.2,1100.3 294.6,1100.3 291.9,1100.3 289.3,1100.2 286.6,1100.0 284.0,1099.3Z" fill="#969696"/>
<path d="M338.0,1100.6 340.5,1099.0 343.0,1098.6 345.5,1098.4 348.0,1098.4 350.5,1098.4 353.0,1098.4 355.5,1098.3 358.0,1098.4 360.5,1098.4 363.0,1098.4 365.5,1098.4 368.0,1098.6 370.5,1099.0 373.0,1100.6 373.0,1100.6 370.5,1102.2 368.0,1102.6 365.5,1102.8 363.0,1102.8 360.5,1102.8 358.0,1102.8 355.5,1102.8 353.0,1102.8 350.5,1102.8 348.0,1102.8 345.5,1102.8 343.0,1102.6 340.5,1102.2 338.0,1100.6Z" fill="#b9b9b9"/>
<path d="M390.0,1102.4 392.6,1101.0 395.3,1100.7 397.9,1100.5 400.6,1100.5 403.2,1100.5 405.9,1100.5 408.5,1100.5 411.1,1100.5 413.8,1100.5 416.4,1100.6 419.1,1100.6 421.7,1100.8 424.4,1101.2 427.0,1102.6 427.0,1102.6 424.4,1104.0 421.7,1104.3 419.1,1104.5 416.4,1104.5 413.8,1104.5 411.1,1104.5 408.5,1104.5 405.9,1104.5 403.2,1104.5 400.6,1104.4 397.9,1104.4 395.3,1104.2 392.6,1103.8 390.0,1102.4Z" fill="#696969"/>
<path d="M444.0,1102.0 446.4,1100.8 448.7,1100.6 451.1,1100.6 453.4,1100.7 455.8,1100.8 458.1,1100.9 460.5,1101.0 462.9,1101.1 465.2,1101.2 467.6,1101.4 469.9,1101.5 472.3,1101.8 474.6,1102.2 477.0,1103.6 477.0,1103.6 474.6,1104.8 472.3,1105.0 469.9,1105.0 467.6,1104.9 465.2,1104.8 462.9,1104.7 460.5,1104.6 458.1,1104.5 455.8,1104.4 453.4,1104.2 451.1,1104.1 448.7,1103.8 446.4,1103.4 444.0,1102.0Z" fill="#7d7d7d"/>
<path d="M331.8,1166.2 334.5,1164.5 337.3,1164.1 340.0,1163.8 342.7,1163.7 345.4,1163.6 348.2,1163.6 350.9,1163.5 353.6,1163.4 356.4,1163.4 359.1,1163.4 361.8,1163.4 364.5,1163.5 367.3,1163.8 370.0,1165.4 370.0,1165.4 367.3,1167.1 364.5,1167.5 361.8,1167.8 359.1,1167.9 356.4,1168.0 353.6,1168.0 350.9,1168.1 348.2,1168.2 345.4,1168.2 342.7,1168.2 340.0,1168.2 337.3,1168.1 334.5,1167.8 331.8,1166.2Z" fill="#878787"/>
<path d="M385.6,1166.4 388.6,1164.1 391.6,1163.5 394.6,1163.3 397.5,1163.2 400.5,1163.2 403.5,1163.2 406.5,1163.2 409.5,1163.2 412.5,1163.2 415.5,1163.3 418.4,1163.4 421.4,1163.7 424.4,1164.3 427.4,1166.6 427.4,1166.6 424.4,1168.9 421.4,1169.5 418.4,1169.7 415.5,1169.8 412.5,1169.8 409.5,1169.8 406.5,1169.8 403.5,1169.8 400.5,1169.8 397.5,1169.7 394.6,1169.6 391.6,1169.3 388.6,1168.7 385.6,1166.4Z" fill="#2d2d2d"/>
<path d="M442.0,1166.6 445.1,1164.5 448.1,1163.9 451.2,1163.6 454.2,1163.4 457.3,1163.3 460.3,1163.3 463.4,1163.2 466.5,1163.1 469.5,1163.1 472.6,1163.0 475.6,1163.1 478.7,1163.3 481.7,1163.9 484.8,1166.6 484.8,1166.6 481.7,1169.3 478.7,1169.9 475.6,1170.1 472.6,1170.2 469.5,1170.1 466.5,1170.1 463.4,1170.0 460.3,1169.9 457.3,1169.9 454.2,1169.8 451.2,1169.6 448.1,1169.3 445.1,1168.7 442.0,1166.6Z" fill="#232323"/>
<path d="M226.0,1176.5 228.6,1175.8 231.1,1175.6 233.7,1175.5 236.3,1175.5 238.9,1175.5 241.4,1175.5 244.0,1175.5 246.6,1175.5 249.1,1175.5 251.7,1175.5 254.3,1175.5 256.9,1175.6 259.4,1175.8 262.0,1176.5 262.0,1176.5 259.4,1177.2 256.9,1177.4 254.3,1177.5 251.7,1177.5 249.1,1177.5 246.6,1177.5 244.0,1177.5 241.4,1177.5 238.9,1177.5 236.3,1177.5 233.7,1177.5 231.1,1177.4 228.6,1177.2 226.0,1176.5Z" fill="#e4e4e4"/>
<path d="M280.0,1176.5 282.6,1175.8 285.1,1175.6 287.7,1175.5 290.3,1175.5 292.9,1175.5 295.4,1175.5 298.0,1175.5 300.6,1175.5 303.1,1175.5 305.7,1175.5 308.3,1175.5 310.9,1175.6 313.4,1175.8 316.0,1176.5 316.0,1176.5 313.4,1177.2 310.9,1177.4 308.3,1177.5 305.7,1177.5 303.1,1177.5 300.6,1177.5 298.0,1177.5 295.4,1177.5 292.9,1177.5 290.3,1177.5 287.7,1177.5 285.1,1177.4 282.6,1177.2 280.0,1176.5Z" fill="#e4e4e4"/>
<path d="M336.0,1176.5 338.1,1175.8 340.3,1175.6 342.4,1175.5 344.6,1175.5 346.7,1175.5 348.9,1175.5 351.0,1175.5 353.1,1175.5 355.3,1175.5 357.4,1175.5 359.6,1175.5 361.7,1175.6 363.9,1175.8 366.0,1176.5 366.0,1176.5 363.9,1177.2 361.7,1177.4 359.6,1177.5 357.4,1177.5 355.3,1177.5 353.1,1177.5 351.0,1177.5 348.9,1177.5 346.7,1177.5 344.6,1177.5 342.4,1177.5 340.3,1177.4 338.1,1177.2 336.0,1176.5Z" fill="#e4e4e4"/>
<path d="M388.0,1176.5 390.6,1175.8 393.1,1175.6 395.7,1175.5 398.3,1175.5 400.9,1175.5 403.4,1175.5 406.0,1175.5 408.6,1175.5 411.1,1175.5 413.7,1175.5 416.3,1175.5 418.9,1175.6 421.4,1175.8 424.0,1176.5 424.0,1176.5 421.4,1177.2 418.9,1177.4 416.3,1177.5 413.7,1177.5 411.1,1177.5 408.6,1177.5 406.0,1177.5 403.4,1177.5 400.9,1177.5 398.3,1177.5 395.7,1177.5 393.1,1177.4 390.6,1177.2 388.0,1176.5Z" fill="#e4e4e4"/>
<path d="M444.0,1176.5 446.7,1175.8 449.4,1175.6 452.1,1175.5 454.9,1175.5 457.6,1175.5 460.3,1175.5 463.0,1175.5 465.7,1175.5 468.4,1175.5 471.1,1175.5 473.9,1175.5 476.6,1175.6 479.3,1175.8 482.0,1176.5 482.0,1176.5 479.3,1177.2 476.6,1177.4 473.9,1177.5 471.1,1177.5 468.4,1177.5 465.7,1177.5 463.0,1177.5 460.3,1177.5 457.6,1177.5 454.9,1177.5 452.1,1177.5 449.4,1177.4 446.7,1177.2 444.0,1176.5Z" fill="#e4e4e4"/>
<path d="M168.0,1302.6 170.9,1301.6 173.7,1301.4 176.6,1301.3 179.4,1301.3 182.3,1301.4 185.1,1301.4 188.0,1301.5 190.9,1301.6 193.7,1301.6 196.6,1301.7 199.4,1301.8 202.3,1302.0 205.1,1302.3 208.0,1303.4 208.0,1303.4 205.1,1304.4 202.3,1304.6 199.4,1304.7 196.6,1304.7 193.7,1304.6 190.9,1304.6 188.0,1304.5 185.1,1304.4 182.3,1304.4 179.4,1304.3 176.6,1304.2 173.7,1304.0 170.9,1303.7 168.0,1302.6Z" fill="#bcbcbc"/>
<path d="M226.0,1320.5 228.9,1319.6 231.7,1319.4 234.6,1319.3 237.4,1319.3 240.3,1319.3 243.1,1319.3 246.0,1319.2 248.9,1319.3 251.7,1319.3 254.6,1319.3 257.4,1319.3 260.3,1319.4 263.1,1319.6 266.0,1320.5 266.0,1320.5 263.1,1321.4 260.3,1321.6 257.4,1321.7 254.6,1321.7 251.7,1321.7 248.9,1321.7 246.0,1321.8 243.1,1321.7 240.3,1321.7 237.4,1321.7 234.6,1321.7 231.7,1321.6 228.9,1321.4 226.0,1320.5Z" fill="#d7d7d7"/>
<path d="M284.0,1320.5 286.7,1319.6 289.4,1319.4 292.1,1319.3 294.9,1319.3 297.6,1319.3 300.3,1319.3 303.0,1319.2 305.7,1319.3 308.4,1319.3 311.1,1319.3 313.9,1319.3 316.6,1319.4 319.3,1319.6 322.0,1320.5 322.0,1320.5 319.3,1321.4 316.6,1321.6 313.9,1321.7 311.1,1321.7 308.4,1321.7 305.7,1321.7 303.0,1321.8 300.3,1321.7 297.6,1321.7 294.9,1321.7 292.1,1321.7 289.4,1321.6 286.7,1321.4 284.0,1320.5Z" fill="#cdcdcd"/>
<path d="M340.0,1320.5 342.6,1319.6 345.1,1319.4 347.7,1319.3 350.3,1319.3 352.9,1319.3 355.4,1319.3 358.0,1319.2 360.6,1319.3 363.1,1319.3 365.7,1319.3 368.3,1319.3 370.9,1319.4 373.4,1319.6 376.0,1320.5 376.0,1320.5 373.4,1321.4 370.9,1321.6 368.3,1321.7 365.7,1321.7 363.1,1321.7 360.6,1321.7 358.0,1321.8 355.4,1321.7 352.9,1321.7 350.3,1321.7 347.7,1321.7 345.1,1321.6 342.6,1321.4 340.0,1320.5Z" fill="#c8c8c8"/>
<path d="M392.0,1320.5 394.9,1319.6 397.7,1319.4 400.6,1319.3 403.4,1319.3 406.3,1319.3 409.1,1319.3 412.0,1319.2 414.9,1319.3 417.7,1319.3 420.6,1319.3 423.4,1319.3 426.3,1319.4 429.1,1319.6 432.0,1320.5 432.0,1320.5 429.1,1321.4 426.3,1321.6 423.4,1321.7 420.6,1321.7 417.7,1321.7 414.9,1321.7 412.0,1321.8 409.1,1321.7 406.3,1321.7 403.4,1321.7 400.6,1321.7 397.7,1321.6 394.9,1321.4 392.0,1320.5Z" fill="#c8c8c8"/>
<path d="M450.0,1320.5 452.9,1319.6 455.7,1319.4 458.6,1319.3 461.4,1319.3 464.3,1319.3 467.1,1319.3 470.0,1319.2 472.9,1319.3 475.7,1319.3 478.6,1319.3 481.4,1319.3 484.3,1319.4 487.1,1319.6 490.0,1320.5 490.0,1320.5 487.1,1321.4 484.3,1321.6 481.4,1321.7 478.6,1321.7 475.7,1321.7 472.9,1321.7 470.0,1321.8 467.1,1321.7 464.3,1321.7 461.4,1321.7 458.6,1321.7 455.7,1321.6 452.9,1321.4 450.0,1320.5Z" fill="#cdcdcd"/>
<path d="M226.0,1331.0 228.9,1330.3 231.7,1330.1 234.6,1330.0 237.4,1330.0 240.3,1330.0 243.1,1330.0 246.0,1330.0 248.9,1330.0 251.7,1330.0 254.6,1330.0 257.4,1330.0 260.3,1330.1 263.1,1330.3 266.0,1331.0 266.0,1331.0 263.1,1331.7 260.3,1331.9 257.4,1332.0 254.6,1332.0 251.7,1332.0 248.9,1332.0 246.0,1332.0 243.1,1332.0 240.3,1332.0 237.4,1332.0 234.6,1332.0 231.7,1331.9 228.9,1331.7 226.0,1331.0Z" fill="#cdcdcd"/>
<path d="M184.0,1399.0 186.5,1398.2 189.0,1397.9 191.5,1397.8 194.0,1397.8 196.5,1397.8 199.0,1397.8 201.5,1397.8 204.0,1397.8 206.5,1397.8 209.0,1397.8 211.5,1397.8 214.0,1397.9 216.5,1398.2 219.0,1399.0 219.0,1399.0 216.5,1399.8 214.0,1400.1 211.5,1400.2 209.0,1400.2 206.5,1400.2 204.0,1400.2 201.5,1400.2 199.0,1400.2 196.5,1400.2 194.0,1400.2 191.5,1400.2 189.0,1400.1 186.5,1399.8 184.0,1399.0Z" fill="#dedede"/>
<path d="M181.0,1373.0 183.9,1370.7 186.7,1370.2 189.6,1369.9 192.4,1369.8 195.3,1369.8 198.1,1369.8 201.0,1369.8 203.9,1369.8 206.7,1369.8 209.6,1369.8 212.4,1369.9 215.3,1370.2 218.1,1370.7 221.0,1373.0 221.0,1373.0 218.1,1375.3 215.3,1375.8 212.4,1376.1 209.6,1376.2 206.7,1376.2 203.9,1376.2 201.0,1376.2 198.1,1376.2 195.3,1376.2 192.4,1376.2 189.6,1376.1 186.7,1375.8 183.9,1375.3 181.0,1373.0Z" fill="#696969"/>
<path d="M237.0,1359.0 239.7,1358.1 242.4,1357.9 245.1,1357.8 247.9,1357.7 250.6,1357.7 253.3,1357.7 256.0,1357.7 258.7,1357.7 261.4,1357.7 264.1,1357.7 266.9,1357.8 269.6,1357.9 272.3,1358.1 275.0,1359.0 275.0,1359.0 272.3,1359.9 269.6,1360.1 266.9,1360.2 264.1,1360.3 261.4,1360.3 258.7,1360.3 256.0,1360.3 253.3,1360.3 250.6,1360.3 247.9,1360.3 245.1,1360.2 242.4,1360.1 239.7,1359.9 237.0,1359.0Z" fill="#696969"/>
<path d="M236.0,1399.0 238.9,1398.2 241.9,1397.9 244.8,1397.8 247.7,1397.8 250.6,1397.8 253.6,1397.8 256.5,1397.8 259.4,1397.8 262.4,1397.8 265.3,1397.8 268.2,1397.8 271.1,1397.9 274.1,1398.2 277.0,1399.0 277.0,1399.0 274.1,1399.8 271.1,1400.1 268.2,1400.2 265.3,1400.2 262.4,1400.2 259.4,1400.2 256.5,1400.2 253.6,1400.2 250.6,1400.2 247.7,1400.2 244.8,1400.2 241.9,1400.1 238.9,1399.8 236.0,1399.0Z" fill="#5f5f5f"/>
<path d="M293.0,1359.2 295.6,1358.5 298.1,1358.3 300.7,1358.2 303.3,1358.2 305.9,1358.2 308.4,1358.2 311.0,1358.2 313.6,1358.2 316.1,1358.2 318.7,1358.2 321.3,1358.2 323.9,1358.3 326.4,1358.5 329.0,1359.2 329.0,1359.2 326.4,1359.9 323.9,1360.1 321.3,1360.2 318.7,1360.2 316.1,1360.2 313.6,1360.2 311.0,1360.2 308.4,1360.2 305.9,1360.2 303.3,1360.2 300.7,1360.2 298.1,1360.1 295.6,1359.9 293.0,1359.2Z" fill="#a5a5a5"/>
<path d="M292.0,1399.0 294.8,1398.2 297.6,1397.9 300.4,1397.8 303.1,1397.8 305.9,1397.8 308.7,1397.8 311.5,1397.8 314.3,1397.8 317.1,1397.8 319.9,1397.8 322.6,1397.8 325.4,1397.9 328.2,1398.2 331.0,1399.0 331.0,1399.0 328.2,1399.8 325.4,1400.1 322.6,1400.2 319.9,1400.2 317.1,1400.2 314.3,1400.2 311.5,1400.2 308.7,1400.2 305.9,1400.2 303.1,1400.2 300.4,1400.2 297.6,1400.1 294.8,1399.8 292.0,1399.0Z" fill="#aaaaaa"/>
<path d="M347.0,1399.0 349.5,1398.2 352.0,1397.9 354.5,1397.8 357.0,1397.8 359.5,1397.8 362.0,1397.8 364.5,1397.8 367.0,1397.8 369.5,1397.8 372.0,1397.8 374.5,1397.8 377.0,1397.9 379.5,1398.2 382.0,1399.0 382.0,1399.0 379.5,1399.8 377.0,1400.1 374.5,1400.2 372.0,1400.2 369.5,1400.2 367.0,1400.2 364.5,1400.2 362.0,1400.2 359.5,1400.2 357.0,1400.2 354.5,1400.2 352.0,1400.1 349.5,1399.8 347.0,1399.0Z" fill="#c4c4c4"/>
<path d="M344.0,1373.6 346.9,1370.9 349.7,1370.2 352.6,1370.0 355.4,1369.8 358.3,1369.8 361.1,1369.8 364.0,1369.8 366.9,1369.8 369.7,1369.8 372.6,1369.8 375.4,1370.0 378.3,1370.2 381.1,1370.9 384.0,1373.6 384.0,1373.6 381.1,1376.3 378.3,1377.0 375.4,1377.2 372.6,1377.4 369.7,1377.4 366.9,1377.4 364.0,1377.4 361.1,1377.4 358.3,1377.4 355.4,1377.4 352.6,1377.2 349.7,1377.0 346.9,1376.3 344.0,1373.6Z" fill="#282828"/>
<path d="M400.0,1399.0 402.5,1398.2 405.0,1397.9 407.5,1397.8 410.0,1397.8 412.5,1397.8 415.0,1397.8 417.5,1397.8 420.0,1397.8 422.5,1397.8 425.0,1397.8 427.5,1397.8 430.0,1397.9 432.5,1398.2 435.0,1399.0 435.0,1399.0 432.5,1399.8 430.0,1400.1 427.5,1400.2 425.0,1400.2 422.5,1400.2 420.0,1400.2 417.5,1400.2 415.0,1400.2 412.5,1400.2 410.0,1400.2 407.5,1400.2 405.0,1400.1 402.5,1399.8 400.0,1399.0Z" fill="#c8c8c8"/>
<path d="M397.0,1374.2 399.9,1371.2 402.7,1370.4 405.6,1370.1 408.4,1369.9 411.3,1369.9 414.1,1369.9 417.0,1369.9 419.9,1369.9 422.7,1369.9 425.6,1369.9 428.4,1370.1 431.3,1370.4 434.1,1371.2 437.0,1374.2 437.0,1374.2 434.1,1377.2 431.3,1378.0 428.4,1378.3 425.6,1378.5 422.7,1378.5 419.9,1378.5 417.0,1378.5 414.1,1378.5 411.3,1378.5 408.4,1378.5 405.6,1378.3 402.7,1378.0 399.9,1377.2 397.0,1374.2Z" fill="#1c1c1c"/>
<path d="M453.0,1358.0 455.6,1357.4 458.1,1357.3 460.7,1357.2 463.3,1357.2 465.9,1357.2 468.4,1357.2 471.0,1357.2 473.6,1357.2 476.1,1357.2 478.7,1357.2 481.3,1357.2 483.9,1357.3 486.4,1357.4 489.0,1358.0 489.0,1358.0 486.4,1358.6 483.9,1358.7 481.3,1358.8 478.7,1358.8 476.1,1358.8 473.6,1358.8 471.0,1358.8 468.4,1358.8 465.9,1358.8 463.3,1358.8 460.7,1358.8 458.1,1358.7 455.6,1358.6 453.0,1358.0Z" fill="#c3c3c3"/>
<path d="M452.0,1399.0 454.8,1398.2 457.6,1397.9 460.4,1397.8 463.1,1397.8 465.9,1397.8 468.7,1397.8 471.5,1397.8 474.3,1397.8 477.1,1397.8 479.9,1397.8 482.6,1397.8 485.4,1397.9 488.2,1398.2 491.0,1399.0 491.0,1399.0 488.2,1399.8 485.4,1400.1 482.6,1400.2 479.9,1400.2 477.1,1400.2 474.3,1400.2 471.5,1400.2 468.7,1400.2 465.9,1400.2 463.1,1400.2 460.4,1400.2 457.6,1400.1 454.8,1399.8 452.0,1399.0Z" fill="#afafaf"/>
<path d="M537.0,1103.6 539.4,1102.8 541.9,1102.6 544.3,1102.5 546.7,1102.4 549.1,1102.4 551.6,1102.3 554.0,1102.3 556.4,1102.3 558.9,1102.2 561.3,1102.2 563.7,1102.2 566.1,1102.2 568.6,1102.3 571.0,1103.0 571.0,1103.0 568.6,1103.8 566.1,1104.0 563.7,1104.1 561.3,1104.2 558.9,1104.2 556.4,1104.3 554.0,1104.3 551.6,1104.3 549.1,1104.4 546.7,1104.4 544.3,1104.4 541.9,1104.4 539.4,1104.3 537.0,1103.6Z" fill="#c8c8c8"/>
<path d="M591.0,1104.8 593.6,1103.8 596.1,1103.5 598.7,1103.3 601.3,1103.2 603.9,1103.1 606.4,1103.1 609.0,1103.0 611.6,1102.9 614.1,1102.9 616.7,1102.8 619.3,1102.8 621.9,1102.8 624.4,1103.0 627.0,1103.8 627.0,1103.8 624.4,1104.8 621.9,1105.1 619.3,1105.3 616.7,1105.4 614.1,1105.5 611.6,1105.5 609.0,1105.6 606.4,1105.7 603.9,1105.7 601.3,1105.8 598.7,1105.8 596.1,1105.8 593.6,1105.6 591.0,1104.8Z" fill="#aaaaaa"/>
<path d="M648.0,1103.6 650.6,1102.9 653.1,1102.7 655.7,1102.6 658.3,1102.6 660.9,1102.6 663.4,1102.6 666.0,1102.6 668.6,1102.6 671.1,1102.6 673.7,1102.6 676.3,1102.6 678.9,1102.7 681.4,1102.9 684.0,1103.6 684.0,1103.6 681.4,1104.3 678.9,1104.5 676.3,1104.6 673.7,1104.6 671.1,1104.6 668.6,1104.6 666.0,1104.6 663.4,1104.6 660.9,1104.6 658.3,1104.6 655.7,1104.6 653.1,1104.5 650.6,1104.3 648.0,1103.6Z" fill="#bebebe"/>
<path d="M703.0,1103.4 705.3,1102.5 707.6,1102.2 709.9,1102.0 712.1,1101.8 714.4,1101.7 716.7,1101.5 719.0,1101.4 721.3,1101.3 723.6,1101.1 725.9,1101.0 728.1,1100.9 730.4,1100.8 732.7,1100.8 735.0,1101.4 735.0,1101.4 732.7,1102.3 730.4,1102.6 728.1,1102.8 725.9,1103.0 723.6,1103.1 721.3,1103.3 719.0,1103.4 716.7,1103.5 714.4,1103.7 712.1,1103.8 709.9,1103.9 707.6,1104.0 705.3,1104.0 703.0,1103.4Z" fill="#d7d7d7"/>
<path d="M757.0,1102.6 759.4,1101.9 761.7,1101.8 764.1,1101.8 766.4,1101.8 768.8,1101.9 771.1,1101.9 773.5,1102.0 775.9,1102.1 778.2,1102.1 780.6,1102.2 782.9,1102.3 785.3,1102.4 787.6,1102.6 790.0,1103.4 790.0,1103.4 787.6,1104.1 785.3,1104.2 782.9,1104.2 780.6,1104.2 778.2,1104.1 775.9,1104.1 773.5,1104.0 771.1,1103.9 768.8,1103.9 766.4,1103.8 764.1,1103.7 761.7,1103.6 759.4,1103.4 757.0,1102.6Z" fill="#d2d2d2"/>
<path d="M814.0,1100.5 816.3,1099.8 818.6,1099.4 820.9,1099.2 823.1,1099.0 825.4,1098.8 827.7,1098.6 830.0,1098.5 832.3,1098.3 834.6,1098.1 836.9,1097.9 839.1,1097.8 841.4,1097.7 843.7,1097.6 846.0,1098.0 846.0,1098.0 843.7,1098.7 841.4,1099.1 839.1,1099.3 836.9,1099.5 834.6,1099.7 832.3,1099.9 830.0,1100.0 827.7,1100.2 825.4,1100.4 823.1,1100.6 820.9,1100.7 818.6,1100.8 816.3,1100.9 814.0,1100.5Z" fill="#e4e4e4"/>
<path d="M692.0,1166.2 694.9,1164.5 697.8,1164.1 700.7,1163.9 703.5,1163.8 706.4,1163.8 709.3,1163.7 712.2,1163.7 715.1,1163.7 718.0,1163.6 720.9,1163.6 723.7,1163.7 726.6,1163.8 729.5,1164.2 732.4,1165.8 732.4,1165.8 729.5,1167.5 726.6,1167.9 723.7,1168.1 720.9,1168.2 718.0,1168.2 715.1,1168.3 712.2,1168.3 709.3,1168.3 706.4,1168.4 703.5,1168.4 700.7,1168.3 697.8,1168.2 694.9,1167.8 692.0,1166.2Z" fill="#828282"/>
<path d="M747.4,1165.8 750.5,1163.6 753.7,1163.0 756.8,1162.8 760.0,1162.7 763.1,1162.7 766.3,1162.8 769.4,1162.8 772.5,1162.8 775.7,1162.9 778.8,1162.9 782.0,1163.0 785.1,1163.3 788.3,1163.9 791.4,1166.2 791.4,1166.2 788.3,1168.4 785.1,1169.0 782.0,1169.2 778.8,1169.3 775.7,1169.3 772.5,1169.2 769.4,1169.2 766.3,1169.2 763.1,1169.1 760.0,1169.1 756.8,1169.0 753.7,1168.7 750.5,1168.1 747.4,1165.8Z" fill="#2a2a2a"/>
<path d="M806.0,1166.4 809.3,1164.5 812.7,1163.8 816.0,1163.4 819.3,1163.1 822.6,1162.9 826.0,1162.7 829.3,1162.5 832.6,1162.3 836.0,1162.1 839.3,1161.9 842.6,1161.8 845.9,1161.8 849.3,1162.3 852.6,1164.8 852.6,1164.8 849.3,1167.5 845.9,1168.2 842.6,1168.5 839.3,1168.6 836.0,1168.7 832.6,1168.7 829.3,1168.7 826.0,1168.8 822.6,1168.8 819.3,1168.8 816.0,1168.7 812.7,1168.5 809.3,1168.1 806.0,1166.4Z" fill="#262626"/>
<path d="M582.0,1177.0 584.6,1176.3 587.1,1176.1 589.7,1176.0 592.3,1176.0 594.9,1176.0 597.4,1176.0 600.0,1176.0 602.6,1176.0 605.1,1176.0 607.7,1176.0 610.3,1176.0 612.9,1176.1 615.4,1176.3 618.0,1177.0 618.0,1177.0 615.4,1177.7 612.9,1177.9 610.3,1178.0 607.7,1178.0 605.1,1178.0 602.6,1178.0 600.0,1178.0 597.4,1178.0 594.9,1178.0 592.3,1178.0 589.7,1178.0 587.1,1177.9 584.6,1177.7 582.0,1177.0Z" fill="#e4e4e4"/>
<path d="M638.0,1177.0 640.6,1176.3 643.1,1176.1 645.7,1176.0 648.3,1176.0 650.9,1176.0 653.4,1176.0 656.0,1176.0 658.6,1176.0 661.1,1176.0 663.7,1176.0 666.3,1176.0 668.9,1176.1 671.4,1176.3 674.0,1177.0 674.0,1177.0 671.4,1177.7 668.9,1177.9 666.3,1178.0 663.7,1178.0 661.1,1178.0 658.6,1178.0 656.0,1178.0 653.4,1178.0 650.9,1178.0 648.3,1178.0 645.7,1178.0 643.1,1177.9 640.6,1177.7 638.0,1177.0Z" fill="#e4e4e4"/>
<path d="M696.0,1177.0 698.3,1176.3 700.6,1176.1 702.9,1176.0 705.1,1176.0 707.4,1176.0 709.7,1176.0 712.0,1176.0 714.3,1176.0 716.6,1176.0 718.9,1176.0 721.1,1176.0 723.4,1176.1 725.7,1176.3 728.0,1177.0 728.0,1177.0 725.7,1177.7 723.4,1177.9 721.1,1178.0 718.9,1178.0 716.6,1178.0 714.3,1178.0 712.0,1178.0 709.7,1178.0 707.4,1178.0 705.1,1178.0 702.9,1178.0 700.6,1177.9 698.3,1177.7 696.0,1177.0Z" fill="#e4e4e4"/>
<path d="M751.0,1177.0 753.6,1176.3 756.1,1176.1 758.7,1176.0 761.3,1176.0 763.9,1176.0 766.4,1176.0 769.0,1176.0 771.6,1176.0 774.1,1176.0 776.7,1176.0 779.3,1176.0 781.9,1176.1 784.4,1176.3 787.0,1177.0 787.0,1177.0 784.4,1177.7 781.9,1177.9 779.3,1178.0 776.7,1178.0 774.1,1178.0 771.6,1178.0 769.0,1178.0 766.4,1178.0 763.9,1178.0 761.3,1178.0 758.7,1178.0 756.1,1177.9 753.6,1177.7 751.0,1177.0Z" fill="#e4e4e4"/>
<path d="M810.0,1177.0 812.7,1176.3 815.4,1176.1 818.1,1176.0 820.9,1176.0 823.6,1176.0 826.3,1176.0 829.0,1176.0 831.7,1176.0 834.4,1176.0 837.1,1176.0 839.9,1176.0 842.6,1176.1 845.3,1176.3 848.0,1177.0 848.0,1177.0 845.3,1177.7 842.6,1177.9 839.9,1178.0 837.1,1178.0 834.4,1178.0 831.7,1178.0 829.0,1178.0 826.3,1178.0 823.6,1178.0 820.9,1178.0 818.1,1178.0 815.4,1177.9 812.7,1177.7 810.0,1177.0Z" fill="#e4e4e4"/>
<path d="M531.0,1304.4 533.8,1303.4 536.6,1303.2 539.4,1303.2 542.1,1303.2 544.9,1303.3 547.7,1303.3 550.5,1303.4 553.3,1303.5 556.1,1303.5 558.9,1303.6 561.6,1303.7 564.4,1303.9 567.2,1304.3 570.0,1305.4 570.0,1305.4 567.2,1306.4 564.4,1306.6 561.6,1306.6 558.9,1306.6 556.1,1306.5 553.3,1306.5 550.5,1306.4 547.7,1306.3 544.9,1306.3 542.1,1306.2 539.4,1306.1 536.6,1305.9 533.8,1305.5 531.0,1304.4Z" fill="#aaaaaa"/>
<path d="M588.0,1320.5 590.4,1319.6 592.9,1319.4 595.3,1319.3 597.7,1319.3 600.1,1319.3 602.6,1319.3 605.0,1319.2 607.4,1319.3 609.9,1319.3 612.3,1319.3 614.7,1319.3 617.1,1319.4 619.6,1319.6 622.0,1320.5 622.0,1320.5 619.6,1321.4 617.1,1321.6 614.7,1321.7 612.3,1321.7 609.9,1321.7 607.4,1321.7 605.0,1321.8 602.6,1321.7 600.1,1321.7 597.7,1321.7 595.3,1321.7 592.9,1321.6 590.4,1321.4 588.0,1320.5Z" fill="#d7d7d7"/>
<path d="M642.0,1320.5 644.6,1319.6 647.1,1319.4 649.7,1319.3 652.3,1319.3 654.9,1319.3 657.4,1319.3 660.0,1319.2 662.6,1319.3 665.1,1319.3 667.7,1319.3 670.3,1319.3 672.9,1319.4 675.4,1319.6 678.0,1320.5 678.0,1320.5 675.4,1321.4 672.9,1321.6 670.3,1321.7 667.7,1321.7 665.1,1321.7 662.6,1321.7 660.0,1321.8 657.4,1321.7 654.9,1321.7 652.3,1321.7 649.7,1321.7 647.1,1321.6 644.6,1321.4 642.0,1320.5Z" fill="#cdcdcd"/>
<path d="M697.0,1320.5 699.4,1319.6 701.9,1319.4 704.3,1319.3 706.7,1319.3 709.1,1319.3 711.6,1319.3 714.0,1319.2 716.4,1319.3 718.9,1319.3 721.3,1319.3 723.7,1319.3 726.1,1319.4 728.6,1319.6 731.0,1320.5 731.0,1320.5 728.6,1321.4 726.1,1321.6 723.7,1321.7 721.3,1321.7 718.9,1321.7 716.4,1321.7 714.0,1321.8 711.6,1321.7 709.1,1321.7 706.7,1321.7 704.3,1321.7 701.9,1321.6 699.4,1321.4 697.0,1320.5Z" fill="#c8c8c8"/>
<path d="M748.0,1320.5 750.6,1319.6 753.1,1319.4 755.7,1319.3 758.3,1319.3 760.9,1319.3 763.4,1319.3 766.0,1319.2 768.6,1319.3 771.1,1319.3 773.7,1319.3 776.3,1319.3 778.9,1319.4 781.4,1319.6 784.0,1320.5 784.0,1320.5 781.4,1321.4 778.9,1321.6 776.3,1321.7 773.7,1321.7 771.1,1321.7 768.6,1321.7 766.0,1321.8 763.4,1321.7 760.9,1321.7 758.3,1321.7 755.7,1321.7 753.1,1321.6 750.6,1321.4 748.0,1320.5Z" fill="#cdcdcd"/>
<path d="M805.0,1320.5 807.9,1319.6 810.7,1319.4 813.6,1319.3 816.4,1319.3 819.3,1319.3 822.1,1319.3 825.0,1319.2 827.9,1319.3 830.7,1319.3 833.6,1319.3 836.4,1319.3 839.3,1319.4 842.1,1319.6 845.0,1320.5 845.0,1320.5 842.1,1321.4 839.3,1321.6 836.4,1321.7 833.6,1321.7 830.7,1321.7 827.9,1321.7 825.0,1321.8 822.1,1321.7 819.3,1321.7 816.4,1321.7 813.6,1321.7 810.7,1321.6 807.9,1321.4 805.0,1320.5Z" fill="#cdcdcd"/>
<path d="M803.0,1331.2 806.1,1330.4 809.1,1330.1 812.2,1330.0 815.3,1330.0 818.4,1330.0 821.4,1330.0 824.5,1330.0 827.6,1330.0 830.6,1330.0 833.7,1330.0 836.8,1330.0 839.9,1330.1 842.9,1330.4 846.0,1331.2 846.0,1331.2 842.9,1332.0 839.9,1332.3 836.8,1332.4 833.7,1332.4 830.6,1332.4 827.6,1332.4 824.5,1332.4 821.4,1332.4 818.4,1332.4 815.3,1332.4 812.2,1332.4 809.1,1332.3 806.1,1332.0 803.0,1331.2Z" fill="#b9b9b9"/>
<line x1="818.6" y1="1310" x2="818.6" y2="1332" stroke="#c4c4c4" stroke-width="1.8"/>
<path d="M536.0,1399.0 538.5,1398.2 541.0,1397.9 543.5,1397.8 546.0,1397.8 548.5,1397.8 551.0,1397.8 553.5,1397.8 556.0,1397.8 558.5,1397.8 561.0,1397.8 563.5,1397.8 566.0,1397.9 568.5,1398.2 571.0,1399.0 571.0,1399.0 568.5,1399.8 566.0,1400.1 563.5,1400.2 561.0,1400.2 558.5,1400.2 556.0,1400.2 553.5,1400.2 551.0,1400.2 548.5,1400.2 546.0,1400.2 543.5,1400.2 541.0,1400.1 538.5,1399.8 536.0,1399.0Z" fill="#dadada"/>
<path d="M533.0,1372.6 535.9,1370.7 538.7,1370.2 541.6,1370.0 544.4,1369.9 547.3,1369.9 550.1,1369.9 553.0,1369.9 555.9,1369.9 558.7,1369.9 561.6,1369.9 564.4,1370.0 567.3,1370.2 570.1,1370.7 573.0,1372.6 573.0,1372.6 570.1,1374.5 567.3,1375.0 564.4,1375.2 561.6,1375.3 558.7,1375.3 555.9,1375.3 553.0,1375.3 550.1,1375.3 547.3,1375.3 544.4,1375.3 541.6,1375.2 538.7,1375.0 535.9,1374.5 533.0,1372.6Z" fill="#6e6e6e"/>
<path d="M535.0,1379.0 537.6,1378.3 540.3,1378.1 542.9,1378.0 545.6,1378.0 548.2,1378.0 550.9,1378.0 553.5,1378.0 556.1,1378.0 558.8,1378.0 561.4,1378.0 564.1,1378.0 566.7,1378.1 569.4,1378.3 572.0,1379.0 572.0,1379.0 569.4,1379.7 566.7,1379.9 564.1,1380.0 561.4,1380.0 558.8,1380.0 556.1,1380.0 553.5,1380.0 550.9,1380.0 548.2,1380.0 545.6,1380.0 542.9,1380.0 540.3,1379.9 537.6,1379.7 535.0,1379.0Z" fill="#a5a5a5"/>
<path d="M589.0,1358.0 591.7,1357.1 594.4,1356.9 597.1,1356.8 599.9,1356.7 602.6,1356.7 605.3,1356.7 608.0,1356.7 610.7,1356.7 613.4,1356.7 616.1,1356.7 618.9,1356.8 621.6,1356.9 624.3,1357.1 627.0,1358.0 627.0,1358.0 624.3,1358.9 621.6,1359.1 618.9,1359.2 616.1,1359.3 613.4,1359.3 610.7,1359.3 608.0,1359.3 605.3,1359.3 602.6,1359.3 599.9,1359.3 597.1,1359.2 594.4,1359.1 591.7,1358.9 589.0,1358.0Z" fill="#878787"/>
<path d="M588.0,1399.0 590.9,1398.2 593.9,1397.9 596.8,1397.8 599.7,1397.8 602.6,1397.8 605.6,1397.8 608.5,1397.8 611.4,1397.8 614.4,1397.8 617.3,1397.8 620.2,1397.8 623.1,1397.9 626.1,1398.2 629.0,1399.0 629.0,1399.0 626.1,1399.8 623.1,1400.1 620.2,1400.2 617.3,1400.2 614.4,1400.2 611.4,1400.2 608.5,1400.2 605.6,1400.2 602.6,1400.2 599.7,1400.2 596.8,1400.2 593.9,1400.1 590.9,1399.8 588.0,1399.0Z" fill="#878787"/>
<path d="M588.0,1389.6 590.9,1388.0 593.7,1387.6 596.6,1387.4 599.4,1387.3 602.3,1387.3 605.1,1387.3 608.0,1387.3 610.9,1387.3 613.7,1387.3 616.6,1387.3 619.4,1387.4 622.3,1387.6 625.1,1388.0 628.0,1389.6 628.0,1389.6 625.1,1391.2 622.3,1391.6 619.4,1391.8 616.6,1391.9 613.7,1391.9 610.9,1391.9 608.0,1391.9 605.1,1391.9 602.3,1391.9 599.4,1391.9 596.6,1391.8 593.7,1391.6 590.9,1391.2 588.0,1389.6Z" fill="#696969"/>
<path d="M644.0,1358.0 646.5,1357.4 649.0,1357.3 651.5,1357.2 654.0,1357.2 656.5,1357.2 659.0,1357.2 661.5,1357.2 664.0,1357.2 666.5,1357.2 669.0,1357.2 671.5,1357.2 674.0,1357.3 676.5,1357.4 679.0,1358.0 679.0,1358.0 676.5,1358.6 674.0,1358.7 671.5,1358.8 669.0,1358.8 666.5,1358.8 664.0,1358.8 661.5,1358.8 659.0,1358.8 656.5,1358.8 654.0,1358.8 651.5,1358.8 649.0,1358.7 646.5,1358.6 644.0,1358.0Z" fill="#cdcdcd"/>
<path d="M643.0,1399.0 645.7,1398.2 648.4,1397.9 651.1,1397.8 653.9,1397.8 656.6,1397.8 659.3,1397.8 662.0,1397.8 664.7,1397.8 667.4,1397.8 670.1,1397.8 672.9,1397.8 675.6,1397.9 678.3,1398.2 681.0,1399.0 681.0,1399.0 678.3,1399.8 675.6,1400.1 672.9,1400.2 670.1,1400.2 667.4,1400.2 664.7,1400.2 662.0,1400.2 659.3,1400.2 656.6,1400.2 653.9,1400.2 651.1,1400.2 648.4,1400.1 645.7,1399.8 643.0,1399.0Z" fill="#c3c3c3"/>
<path d="M640.0,1373.0 643.1,1370.3 646.1,1369.6 649.2,1369.4 652.3,1369.2 655.4,1369.2 658.4,1369.2 661.5,1369.2 664.6,1369.2 667.6,1369.2 670.7,1369.2 673.8,1369.4 676.9,1369.6 679.9,1370.3 683.0,1373.0 683.0,1373.0 679.9,1375.7 676.9,1376.4 673.8,1376.6 670.7,1376.8 667.6,1376.8 664.6,1376.8 661.5,1376.8 658.4,1376.8 655.4,1376.8 652.3,1376.8 649.2,1376.6 646.1,1376.4 643.1,1375.7 640.0,1373.0Z" fill="#0c0c0c"/>
<path d="M699.0,1355.2 701.3,1354.7 703.6,1354.5 705.9,1354.4 708.1,1354.4 710.4,1354.3 712.7,1354.3 715.0,1354.3 717.3,1354.3 719.6,1354.2 721.9,1354.2 724.1,1354.2 726.4,1354.2 728.7,1354.3 731.0,1354.8 731.0,1354.8 728.7,1355.3 726.4,1355.5 724.1,1355.6 721.9,1355.6 719.6,1355.7 717.3,1355.7 715.0,1355.7 712.7,1355.7 710.4,1355.8 708.1,1355.8 705.9,1355.8 703.6,1355.8 701.3,1355.7 699.0,1355.2Z" fill="#d7d7d7"/>
<path d="M698.0,1399.0 700.5,1398.2 703.0,1397.9 705.5,1397.8 708.0,1397.8 710.5,1397.8 713.0,1397.8 715.5,1397.8 718.0,1397.8 720.5,1397.8 723.0,1397.8 725.5,1397.8 728.0,1397.9 730.5,1398.2 733.0,1399.0 733.0,1399.0 730.5,1399.8 728.0,1400.1 725.5,1400.2 723.0,1400.2 720.5,1400.2 718.0,1400.2 715.5,1400.2 713.0,1400.2 710.5,1400.2 708.0,1400.2 705.5,1400.2 703.0,1400.1 700.5,1399.8 698.0,1399.0Z" fill="#c8c8c8"/>
<path d="M695.0,1372.4 697.9,1369.7 700.7,1368.8 703.6,1368.3 706.4,1368.0 709.3,1367.9 712.1,1367.8 715.0,1367.7 717.9,1367.7 720.7,1367.7 723.6,1367.9 726.4,1368.1 729.3,1368.6 732.1,1369.4 735.0,1372.0 735.0,1372.0 732.1,1374.0 729.3,1374.4 726.4,1374.4 723.6,1374.4 720.7,1374.3 717.9,1374.3 715.0,1374.3 712.1,1374.4 709.3,1374.4 706.4,1374.6 703.6,1374.7 700.7,1374.7 697.9,1374.4 695.0,1372.4Z" fill="#464646"/>
<path d="M752.0,1354.1 754.4,1353.4 756.9,1353.3 759.3,1353.3 761.7,1353.3 764.1,1353.4 766.6,1353.4 769.0,1353.5 771.4,1353.6 773.9,1353.6 776.3,1353.7 778.7,1353.8 781.1,1353.9 783.6,1354.1 786.0,1354.9 786.0,1354.9 783.6,1355.6 781.1,1355.7 778.7,1355.7 776.3,1355.7 773.9,1355.6 771.4,1355.6 769.0,1355.5 766.6,1355.4 764.1,1355.4 761.7,1355.3 759.3,1355.2 756.9,1355.1 754.4,1354.9 752.0,1354.1Z" fill="#828282"/>
<path d="M751.0,1399.0 753.6,1398.2 756.3,1397.9 758.9,1397.8 761.6,1397.8 764.2,1397.8 766.9,1397.8 769.5,1397.8 772.1,1397.8 774.8,1397.8 777.4,1397.8 780.1,1397.8 782.7,1397.9 785.4,1398.2 788.0,1399.0 788.0,1399.0 785.4,1399.8 782.7,1400.1 780.1,1400.2 777.4,1400.2 774.8,1400.2 772.1,1400.2 769.5,1400.2 766.9,1400.2 764.2,1400.2 761.6,1400.2 758.9,1400.2 756.3,1400.1 753.6,1399.8 751.0,1399.0Z" fill="#c8c8c8"/>
<path d="M748.0,1371.2 751.0,1368.4 754.0,1367.6 757.0,1367.2 760.0,1367.0 763.0,1367.0 766.0,1367.0 769.0,1367.0 772.0,1367.1 775.0,1367.2 778.0,1367.4 781.0,1367.6 784.0,1368.1 787.0,1369.0 790.0,1372.0 790.0,1372.0 787.0,1374.4 784.0,1374.8 781.0,1374.9 778.0,1374.9 775.0,1374.8 772.0,1374.7 769.0,1374.6 766.0,1374.6 763.0,1374.5 760.0,1374.5 757.0,1374.5 754.0,1374.3 751.0,1373.7 748.0,1371.2Z" fill="#373737"/>
<path d="M807.0,1354.6 809.9,1353.9 812.7,1353.6 815.6,1353.5 818.4,1353.4 821.3,1353.3 824.1,1353.2 827.0,1353.1 829.9,1353.0 832.7,1352.9 835.6,1352.9 838.4,1352.8 841.3,1352.8 844.1,1352.8 847.0,1353.4 847.0,1353.4 844.1,1354.1 841.3,1354.4 838.4,1354.5 835.6,1354.6 832.7,1354.7 829.9,1354.8 827.0,1354.9 824.1,1355.0 821.3,1355.1 818.4,1355.1 815.6,1355.2 812.7,1355.2 809.9,1355.2 807.0,1354.6Z" fill="#aaaaaa"/>
<path d="M806.0,1399.0 809.1,1398.2 812.1,1397.9 815.2,1397.8 818.3,1397.8 821.4,1397.8 824.4,1397.8 827.5,1397.8 830.6,1397.8 833.6,1397.8 836.7,1397.8 839.8,1397.8 842.9,1397.9 845.9,1398.2 849.0,1399.0 849.0,1399.0 845.9,1399.8 842.9,1400.1 839.8,1400.2 836.7,1400.2 833.6,1400.2 830.6,1400.2 827.5,1400.2 824.4,1400.2 821.4,1400.2 818.3,1400.2 815.2,1400.2 812.1,1400.1 809.1,1399.8 806.0,1399.0Z" fill="#b4b4b4"/>
</g>
<g filter="url(#b1)">
<path d="M171.5,1087.2 174.7,1085.4 177.9,1085.3 181.0,1085.5 184.2,1085.8 187.4,1086.2 190.6,1086.5 193.8,1086.9 196.9,1087.2 200.1,1087.5 203.3,1087.7 206.5,1088.0 209.6,1088.4 212.8,1089.1 216.0,1091.0 216.0,1091.0 212.8,1092.7 209.6,1093.1 206.5,1093.1 203.3,1093.1 200.1,1092.9 196.9,1092.7 193.8,1092.5 190.6,1092.3 187.4,1092.0 184.2,1091.7 181.0,1091.3 177.9,1090.7 174.7,1089.8 171.5,1087.2Z" fill="#000000"/>
<path d="M227.0,1093.7 230.3,1090.1 233.6,1089.5 236.9,1089.4 240.1,1089.4 243.4,1089.4 246.7,1089.4 250.0,1089.4 253.3,1089.4 256.6,1089.4 259.9,1089.4 263.1,1089.4 266.4,1089.5 269.7,1090.1 273.0,1093.7 273.0,1093.7 269.7,1097.3 266.4,1097.9 263.1,1098.0 259.9,1098.0 256.6,1098.0 253.3,1098.0 250.0,1098.0 246.7,1098.0 243.4,1098.0 240.1,1098.0 236.9,1098.0 233.6,1097.9 230.3,1097.3 227.0,1093.7Z" fill="#000000"/>
<path d="M229.5,1102.2 232.3,1100.5 235.1,1100.0 238.0,1099.9 240.8,1099.8 243.6,1099.8 246.4,1099.8 249.2,1099.8 252.1,1099.8 254.9,1099.8 257.7,1099.8 260.5,1099.9 263.4,1100.0 266.2,1100.5 269.0,1102.2 269.0,1102.2 266.2,1103.9 263.4,1104.4 260.5,1104.5 257.7,1104.6 254.9,1104.6 252.1,1104.6 249.2,1104.7 246.4,1104.6 243.6,1104.6 240.8,1104.6 238.0,1104.5 235.1,1104.4 232.3,1103.9 229.5,1102.2Z" fill="#0f0f0f"/>
<path d="M281.0,1094.0 284.0,1090.9 287.1,1090.4 290.1,1090.3 293.1,1090.3 296.2,1090.4 299.2,1090.4 302.2,1090.3 305.3,1090.3 308.3,1090.3 311.4,1090.2 314.4,1090.1 317.4,1090.1 320.5,1090.6 323.5,1093.6 323.5,1093.6 320.5,1097.0 317.4,1097.7 314.4,1097.9 311.4,1098.1 308.3,1098.2 305.3,1098.2 302.2,1098.2 299.2,1098.3 296.2,1098.3 293.1,1098.2 290.1,1098.2 287.1,1097.9 284.0,1097.3 281.0,1094.0Z" fill="#000000"/>
<path d="M284.5,1103.4 287.0,1102.0 289.6,1101.6 292.1,1101.4 294.6,1101.4 297.2,1101.3 299.7,1101.3 302.2,1101.2 304.8,1101.2 307.3,1101.2 309.9,1101.2 312.4,1101.2 314.9,1101.3 317.5,1101.6 320.0,1103.0 320.0,1103.0 317.5,1104.4 314.9,1104.8 312.4,1105.0 309.9,1105.0 307.3,1105.1 304.8,1105.1 302.2,1105.2 299.7,1105.2 297.2,1105.2 294.6,1105.2 292.1,1105.2 289.6,1105.1 287.0,1104.8 284.5,1103.4Z" fill="#282828"/>
<path d="M335.3,1092.6 338.2,1090.4 341.0,1090.0 343.9,1089.8 346.7,1089.8 349.6,1089.8 352.4,1089.8 355.2,1089.8 358.1,1089.8 360.9,1089.8 363.8,1089.8 366.6,1089.8 369.5,1090.0 372.4,1090.4 375.2,1092.6 375.2,1092.6 372.4,1095.0 369.5,1095.7 366.6,1096.1 363.8,1096.2 360.9,1096.3 358.1,1096.3 355.2,1096.3 352.4,1096.3 349.6,1096.3 346.7,1096.2 343.9,1096.1 341.0,1095.7 338.2,1095.0 335.3,1092.6Z" fill="#000000"/>
<path d="M386.0,1093.3 389.2,1090.2 392.3,1089.8 395.5,1089.7 398.7,1089.7 401.9,1089.8 405.0,1089.8 408.2,1089.8 411.4,1089.8 414.5,1089.8 417.7,1089.7 420.9,1089.7 424.1,1089.8 427.2,1090.2 430.4,1093.3 430.4,1093.3 427.2,1096.6 424.1,1097.2 420.9,1097.4 417.7,1097.5 414.5,1097.6 411.4,1097.6 408.2,1097.6 405.0,1097.6 401.9,1097.6 398.7,1097.5 395.5,1097.4 392.3,1097.2 389.2,1096.6 386.0,1093.3Z" fill="#000000"/>
<path d="M440.3,1093.8 443.5,1091.0 446.6,1090.6 449.8,1090.6 453.0,1090.7 456.1,1090.8 459.3,1090.9 462.5,1091.0 465.6,1091.1 468.8,1091.2 471.9,1091.3 475.1,1091.4 478.3,1091.5 481.4,1092.0 484.6,1094.4 484.6,1094.4 481.4,1096.9 478.3,1097.5 475.1,1097.7 471.9,1097.8 468.8,1097.9 465.6,1097.9 462.5,1098.0 459.3,1098.0 456.1,1098.0 453.0,1097.9 449.8,1097.8 446.6,1097.6 443.5,1096.9 440.3,1093.8Z" fill="#000000"/>
<path d="M220.4,1163.6 223.7,1159.6 227.1,1158.6 230.4,1158.2 233.7,1158.0 237.0,1158.0 240.4,1158.0 243.7,1157.9 247.0,1158.0 250.4,1158.0 253.7,1158.0 257.0,1158.2 260.3,1158.6 263.7,1159.6 267.0,1163.6 267.0,1163.6 263.7,1167.6 260.3,1168.6 257.0,1169.0 253.7,1169.2 250.4,1169.2 247.0,1169.2 243.7,1169.2 240.4,1169.2 237.0,1169.2 233.7,1169.2 230.4,1169.0 227.1,1168.6 223.7,1167.6 220.4,1163.6Z" fill="#000000"/>
<path d="M275.6,1164.4 278.8,1161.0 281.9,1160.1 285.1,1159.7 288.3,1159.6 291.5,1159.6 294.6,1159.6 297.8,1159.6 301.0,1159.6 304.1,1159.6 307.3,1159.6 310.5,1159.7 313.7,1160.1 316.8,1161.0 320.0,1164.4 320.0,1164.4 316.8,1167.8 313.7,1168.7 310.5,1169.1 307.3,1169.2 304.1,1169.2 301.0,1169.2 297.8,1169.2 294.6,1169.2 291.5,1169.2 288.3,1169.2 285.1,1169.1 281.9,1168.7 278.8,1167.8 275.6,1164.4Z" fill="#000000"/>
<path d="M170.6,1233.7 173.2,1231.2 175.7,1230.7 178.2,1230.6 180.8,1230.6 183.3,1230.7 185.9,1230.8 188.4,1230.9 191.0,1231.0 193.6,1231.0 196.1,1230.9 198.7,1230.9 201.2,1230.8 203.8,1230.8 206.3,1231.0 208.9,1231.6 211.4,1234.2 211.4,1234.2 208.9,1238.1 206.3,1238.7 203.8,1238.6 201.2,1238.0 198.7,1237.2 196.1,1236.3 193.6,1235.6 191.0,1235.3 188.4,1235.5 185.9,1236.2 183.3,1237.0 180.8,1237.7 178.2,1238.1 175.7,1238.1 173.2,1237.4 170.6,1233.7Z" fill="#080808"/>
<path d="M226.4,1234.7 228.9,1232.0 231.3,1231.4 233.8,1231.3 236.3,1231.4 238.8,1231.6 241.2,1231.7 243.7,1231.9 246.2,1232.0 248.7,1232.0 251.2,1232.0 253.6,1232.0 256.1,1232.0 258.6,1232.1 261.1,1232.4 263.5,1233.1 266.0,1236.3 266.0,1236.3 263.5,1240.7 261.1,1241.3 258.6,1241.1 256.1,1240.3 253.6,1239.2 251.2,1238.0 248.7,1237.1 246.2,1236.7 243.7,1236.9 241.2,1237.7 238.8,1238.6 236.3,1239.4 233.8,1239.8 231.3,1239.8 228.9,1238.9 226.4,1234.7Z" fill="#000000"/>
<path d="M279.6,1236.4 282.2,1233.6 284.9,1233.0 287.5,1232.8 290.1,1232.8 292.7,1233.0 295.4,1233.1 298.0,1233.2 300.6,1233.3 303.2,1233.3 305.9,1233.3 308.5,1233.2 311.1,1233.1 313.7,1233.2 316.4,1233.4 319.0,1234.1 321.6,1237.0 321.6,1237.0 319.0,1241.1 316.4,1241.9 313.7,1241.8 311.1,1241.2 308.5,1240.3 305.9,1239.3 303.2,1238.5 300.6,1238.2 298.0,1238.5 295.4,1239.2 292.7,1240.1 290.1,1241.0 287.5,1241.5 284.9,1241.5 282.2,1240.8 279.6,1236.4Z" fill="#000000"/>
<path d="M333.6,1235.8 336.0,1233.3 338.4,1232.8 340.7,1232.6 343.1,1232.7 345.5,1232.8 347.9,1233.0 350.2,1233.1 352.6,1233.2 355.0,1233.2 357.4,1233.2 359.7,1233.1 362.1,1233.1 364.5,1233.1 366.9,1233.4 369.2,1234.1 371.6,1237.0 371.6,1237.0 369.2,1241.2 366.9,1241.8 364.5,1241.6 362.1,1240.9 359.7,1239.8 357.4,1238.7 355.0,1237.9 352.6,1237.5 350.2,1237.7 347.9,1238.5 345.5,1239.4 343.1,1240.1 340.7,1240.6 338.4,1240.6 336.0,1239.8 333.6,1235.8Z" fill="#040404"/>
<path d="M386.8,1235.4 389.4,1232.5 392.1,1231.9 394.8,1231.7 397.4,1231.7 400.1,1231.8 402.7,1231.9 405.4,1232.0 408.0,1232.0 410.6,1232.0 413.3,1231.9 415.9,1231.8 418.6,1231.7 421.2,1231.7 423.9,1231.9 426.6,1232.6 429.2,1235.6 429.2,1235.6 426.6,1240.1 423.9,1240.8 421.2,1240.8 418.6,1240.3 415.9,1239.5 413.3,1238.6 410.6,1238.0 408.0,1237.7 405.4,1238.0 402.7,1238.6 400.1,1239.4 397.4,1240.2 394.8,1240.6 392.1,1240.6 389.4,1239.8 386.8,1235.4Z" fill="#000000"/>
<path d="M441.4,1234.2 444.2,1231.3 446.9,1230.6 449.7,1230.3 452.4,1230.2 455.2,1230.3 458.0,1230.3 460.7,1230.3 463.5,1230.3 466.3,1230.2 469.0,1230.1 471.8,1229.9 474.6,1229.7 477.3,1229.7 480.1,1229.8 482.8,1230.4 485.6,1233.4 485.6,1233.4 482.8,1237.9 480.1,1238.7 477.3,1238.7 474.6,1238.1 471.8,1237.2 469.0,1236.2 466.3,1235.4 463.5,1235.2 460.7,1235.6 458.0,1236.4 455.2,1237.5 452.4,1238.5 449.7,1239.1 446.9,1239.2 444.2,1238.5 441.4,1234.2Z" fill="#000000"/>
<path d="M221.0,1304.0 224.5,1301.2 228.0,1300.5 231.5,1300.2 235.0,1300.1 238.5,1300.1 242.0,1300.1 245.5,1300.2 249.0,1300.2 252.5,1300.2 256.0,1300.3 259.5,1300.4 263.0,1300.8 266.5,1301.5 270.0,1304.4 270.0,1304.4 266.5,1307.2 263.0,1307.9 259.5,1308.2 256.0,1308.3 252.5,1308.3 249.0,1308.3 245.5,1308.2 242.0,1308.2 238.5,1308.2 235.0,1308.1 231.5,1308.0 228.0,1307.6 224.5,1306.9 221.0,1304.0Z" fill="#000000"/>
<path d="M278.0,1304.8 281.4,1302.2 284.9,1301.6 288.3,1301.4 291.7,1301.3 295.1,1301.3 298.6,1301.3 302.0,1301.3 305.4,1301.4 308.9,1301.4 312.3,1301.5 315.7,1301.6 319.1,1301.9 322.6,1302.6 326.0,1305.2 326.0,1305.2 322.6,1307.8 319.1,1308.4 315.7,1308.6 312.3,1308.7 308.9,1308.7 305.4,1308.7 302.0,1308.7 298.6,1308.6 295.1,1308.6 291.7,1308.5 288.3,1308.4 284.9,1308.1 281.4,1307.4 278.0,1304.8Z" fill="#000000"/>
<path d="M337.0,1306.4 339.9,1305.3 342.9,1305.0 345.8,1304.9 348.7,1304.9 351.6,1305.0 354.6,1305.0 357.5,1305.0 360.4,1305.1 363.4,1305.1 366.3,1305.2 369.2,1305.3 372.1,1305.5 375.1,1305.8 378.0,1307.0 378.0,1307.0 375.1,1308.1 372.1,1308.4 369.2,1308.5 366.3,1308.5 363.4,1308.4 360.4,1308.4 357.5,1308.4 354.6,1308.3 351.6,1308.3 348.7,1308.2 345.8,1308.1 342.9,1307.9 339.9,1307.6 337.0,1306.4Z" fill="#3c3c3c"/>
<path d="M389.0,1307.2 392.3,1305.0 395.7,1304.4 399.0,1304.2 402.3,1304.1 405.6,1304.1 409.0,1304.1 412.3,1304.0 415.6,1304.1 419.0,1304.1 422.3,1304.1 425.6,1304.2 428.9,1304.4 432.3,1305.0 435.6,1307.2 435.6,1307.2 432.3,1309.4 428.9,1310.0 425.6,1310.2 422.3,1310.3 419.0,1310.3 415.6,1310.3 412.3,1310.4 409.0,1310.3 405.6,1310.3 402.3,1310.3 399.0,1310.2 395.7,1310.0 392.3,1309.4 389.0,1307.2Z" fill="#0f0f0f"/>
<path d="M445.6,1307.6 449.1,1305.3 452.5,1304.7 456.0,1304.4 459.4,1304.3 462.9,1304.2 466.3,1304.1 469.8,1304.0 473.3,1304.0 476.7,1303.9 480.2,1303.9 483.6,1304.0 487.1,1304.1 490.5,1304.6 494.0,1306.8 494.0,1306.8 490.5,1309.1 487.1,1309.7 483.6,1310.0 480.2,1310.1 476.7,1310.2 473.3,1310.3 469.8,1310.3 466.3,1310.4 462.9,1310.5 459.4,1310.5 456.0,1310.4 452.5,1310.3 449.1,1309.8 445.6,1307.6Z" fill="#0a0a0a"/>
<path d="M233.0,1372.6 236.3,1367.5 239.6,1366.3 242.9,1365.7 246.1,1365.5 249.4,1365.5 252.7,1365.5 256.0,1365.4 259.3,1365.5 262.6,1365.5 265.9,1365.5 269.1,1365.7 272.4,1366.3 275.7,1367.5 279.0,1372.6 279.0,1372.6 275.7,1377.7 272.4,1378.9 269.1,1379.5 265.9,1379.7 262.6,1379.7 259.3,1379.7 256.0,1379.8 252.7,1379.7 249.4,1379.7 246.1,1379.7 242.9,1379.5 239.6,1378.9 236.3,1377.7 233.0,1372.6Z" fill="#000000"/>
<path d="M289.0,1373.8 292.1,1370.0 295.3,1369.1 298.4,1368.7 301.6,1368.5 304.7,1368.5 307.9,1368.5 311.0,1368.5 314.1,1368.5 317.3,1368.5 320.4,1368.5 323.6,1368.7 326.7,1369.1 329.9,1370.0 333.0,1373.8 333.0,1373.8 329.9,1377.6 326.7,1378.5 323.6,1378.9 320.4,1379.1 317.3,1379.1 314.1,1379.1 311.0,1379.1 307.9,1379.1 304.7,1379.1 301.6,1379.1 298.4,1378.9 295.3,1378.5 292.1,1377.6 289.0,1373.8Z" fill="#080808"/>
<ellipse cx="301" cy="1358.6" rx="2.6" ry="1.5" fill="#444"/>
<path d="M449.0,1373.4 452.1,1369.4 455.3,1368.4 458.4,1368.0 461.6,1367.8 464.7,1367.8 467.9,1367.8 471.0,1367.8 474.1,1367.8 477.3,1367.8 480.4,1367.8 483.6,1368.0 486.7,1368.4 489.9,1369.4 493.0,1373.4 493.0,1373.4 489.9,1377.4 486.7,1378.4 483.6,1378.8 480.4,1379.0 477.3,1379.0 474.1,1379.0 471.0,1379.1 467.9,1379.0 464.7,1379.0 461.6,1379.0 458.4,1378.8 455.3,1378.4 452.1,1377.4 449.0,1373.4Z" fill="#000000"/>
<path d="M168.5,1442.6 L484,1442.2" fill="none" stroke="#000" stroke-width="11.6" stroke-linecap="round"/>
<path d="M160.0,1443.6 164.6,1439.1 169.1,1437.6 173.7,1436.7 178.3,1436.2 182.9,1435.9 187.4,1435.8 192.0,1435.8 196.6,1435.8 201.1,1435.9 205.7,1436.2 210.3,1436.7 214.9,1437.6 219.4,1439.1 224.0,1443.6 224.0,1443.6 219.4,1448.1 214.9,1449.6 210.3,1450.5 205.7,1451.0 201.1,1451.3 196.6,1451.4 192.0,1451.4 187.4,1451.4 182.9,1451.3 178.3,1451.0 173.7,1450.5 169.1,1449.6 164.6,1448.1 160.0,1443.6Z" fill="#000000"/>
<path d="M214.0,1444.8 218.6,1440.1 223.3,1438.6 227.9,1437.7 232.6,1437.1 237.2,1436.8 241.9,1436.7 246.5,1436.6 251.1,1436.7 255.8,1436.8 260.4,1437.1 265.1,1437.7 269.7,1438.6 274.4,1440.1 279.0,1444.8 279.0,1444.8 274.4,1449.5 269.7,1451.0 265.1,1451.9 260.4,1452.5 255.8,1452.8 251.1,1452.9 246.5,1453.0 241.9,1452.9 237.2,1452.8 232.6,1452.5 227.9,1451.9 223.3,1451.0 218.6,1449.5 214.0,1444.8Z" fill="#000000"/>
<path d="M268.0,1444.6 272.6,1440.0 277.1,1438.5 281.7,1437.6 286.3,1437.1 290.9,1436.8 295.4,1436.7 300.0,1436.6 304.6,1436.7 309.1,1436.8 313.7,1437.1 318.3,1437.6 322.9,1438.5 327.4,1440.0 332.0,1444.6 332.0,1444.6 327.4,1449.2 322.9,1450.7 318.3,1451.6 313.7,1452.1 309.1,1452.4 304.6,1452.5 300.0,1452.5 295.4,1452.5 290.9,1452.4 286.3,1452.1 281.7,1451.6 277.1,1450.7 272.6,1449.2 268.0,1444.6Z" fill="#000000"/>
<path d="M321.0,1444.2 325.6,1439.6 330.3,1438.1 334.9,1437.2 339.6,1436.7 344.2,1436.4 348.9,1436.3 353.5,1436.2 358.1,1436.3 362.8,1436.4 367.4,1436.7 372.1,1437.2 376.7,1438.1 381.4,1439.6 386.0,1444.2 386.0,1444.2 381.4,1448.8 376.7,1450.3 372.1,1451.2 367.4,1451.7 362.8,1452.0 358.1,1452.1 353.5,1452.2 348.9,1452.1 344.2,1452.0 339.6,1451.7 334.9,1451.2 330.3,1450.3 325.6,1448.8 321.0,1444.2Z" fill="#000000"/>
<path d="M375.0,1444.6 379.6,1440.0 384.3,1438.5 388.9,1437.6 393.6,1437.1 398.2,1436.8 402.9,1436.7 407.5,1436.6 412.1,1436.7 416.8,1436.8 421.4,1437.1 426.1,1437.6 430.7,1438.5 435.4,1440.0 440.0,1444.6 440.0,1444.6 435.4,1449.2 430.7,1450.7 426.1,1451.6 421.4,1452.1 416.8,1452.4 412.1,1452.5 407.5,1452.5 402.9,1452.5 398.2,1452.4 393.6,1452.1 388.9,1451.6 384.3,1450.7 379.6,1449.2 375.0,1444.6Z" fill="#000000"/>
<path d="M429.0,1444.0 433.5,1439.4 438.0,1437.9 442.5,1437.0 447.0,1436.5 451.5,1436.2 456.0,1436.1 460.5,1436.0 465.0,1436.1 469.5,1436.2 474.0,1436.5 478.5,1437.0 483.0,1437.9 487.5,1439.4 492.0,1444.0 492.0,1444.0 487.5,1448.6 483.0,1450.1 478.5,1451.0 474.0,1451.5 469.5,1451.8 465.0,1451.9 460.5,1452.0 456.0,1451.9 451.5,1451.8 447.0,1451.5 442.5,1451.0 438.0,1450.1 433.5,1448.6 429.0,1444.0Z" fill="#000000"/>
<path d="M532.4,1094.4 535.4,1092.8 538.3,1092.5 541.3,1092.5 544.3,1092.5 547.3,1092.6 550.2,1092.6 553.2,1092.7 556.2,1092.6 559.1,1092.6 562.1,1092.5 565.1,1092.5 568.1,1092.5 571.0,1092.8 574.0,1094.4 574.0,1094.4 571.0,1096.4 568.1,1097.0 565.1,1097.4 562.1,1097.6 559.1,1097.7 556.2,1097.7 553.2,1097.8 550.2,1097.7 547.3,1097.7 544.3,1097.6 541.3,1097.4 538.3,1097.0 535.4,1096.4 532.4,1094.4Z" fill="#050505"/>
<path d="M586.2,1095.8 589.4,1093.0 592.5,1092.5 595.7,1092.4 598.8,1092.4 602.0,1092.4 605.1,1092.4 608.3,1092.3 611.5,1092.3 614.6,1092.3 617.8,1092.2 620.9,1092.1 624.1,1092.2 627.2,1092.6 630.4,1095.4 630.4,1095.4 627.2,1098.5 624.1,1099.2 620.9,1099.5 617.8,1099.7 614.6,1099.8 611.5,1099.8 608.3,1099.8 605.1,1099.9 602.0,1099.9 598.8,1099.8 595.7,1099.7 592.5,1099.5 589.4,1098.8 586.2,1095.8Z" fill="#000000"/>
<path d="M642.0,1094.6 645.3,1091.5 648.5,1090.9 651.8,1090.7 655.0,1090.7 658.3,1090.7 661.5,1090.8 664.8,1090.8 668.1,1091.0 671.3,1091.1 674.6,1091.3 677.8,1091.5 681.1,1091.9 684.3,1092.7 687.6,1096.0 687.6,1096.0 684.3,1098.8 681.1,1099.2 677.8,1099.2 674.6,1099.1 671.3,1099.0 668.1,1098.9 664.8,1098.8 661.5,1098.7 658.3,1098.6 655.0,1098.5 651.8,1098.4 648.5,1098.2 645.3,1097.6 642.0,1094.6Z" fill="#000000"/>
<path d="M697.6,1096.4 700.5,1093.9 703.4,1093.2 706.3,1092.9 709.1,1092.6 712.0,1092.4 714.9,1092.2 717.8,1092.0 720.7,1091.7 723.6,1091.5 726.5,1091.3 729.3,1091.1 732.2,1091.1 735.1,1091.3 738.0,1093.4 738.0,1093.4 735.1,1095.9 732.2,1096.6 729.3,1096.9 726.5,1097.2 723.6,1097.4 720.7,1097.6 717.8,1097.9 714.9,1098.1 712.0,1098.3 709.1,1098.5 706.3,1098.7 703.4,1098.7 700.5,1098.5 697.6,1096.4Z" fill="#050505"/>
<path d="M751.6,1093.6 754.7,1090.8 757.7,1090.4 760.8,1090.3 763.9,1090.4 767.0,1090.4 770.0,1090.5 773.1,1090.6 776.2,1090.6 779.2,1090.6 782.3,1090.6 785.4,1090.7 788.5,1090.8 791.5,1091.4 794.6,1094.2 794.6,1094.2 791.5,1097.2 788.5,1097.8 785.4,1098.0 782.3,1098.1 779.2,1098.1 776.2,1098.1 773.1,1098.1 770.0,1098.0 767.0,1097.9 763.9,1097.8 760.8,1097.7 757.7,1097.4 754.7,1096.7 751.6,1093.6Z" fill="#000000"/>
<path d="M807.0,1091.6 810.2,1089.2 813.4,1088.5 816.6,1088.2 819.9,1088.0 823.1,1087.8 826.3,1087.6 829.5,1087.5 832.7,1087.3 835.9,1087.1 839.1,1086.9 842.4,1086.8 845.6,1086.8 848.8,1087.0 852.0,1088.6 852.0,1088.6 848.8,1090.8 845.6,1091.6 842.4,1092.1 839.1,1092.5 835.9,1092.8 832.7,1093.1 829.5,1093.3 826.3,1093.6 823.1,1093.8 819.9,1094.0 816.6,1094.1 813.4,1094.1 810.2,1093.7 807.0,1091.6Z" fill="#000000"/>
<path d="M838.0,1088.6 839.4,1087.6 840.8,1087.3 842.2,1087.0 843.6,1086.8 845.0,1086.7 846.4,1086.5 847.8,1086.4 849.1,1086.2 850.5,1086.0 851.9,1085.9 853.3,1085.8 854.7,1085.7 856.1,1085.8 857.5,1086.4 857.5,1086.4 856.1,1087.4 854.7,1087.7 853.3,1088.0 851.9,1088.2 850.5,1088.3 849.1,1088.5 847.8,1088.6 846.4,1088.8 845.0,1089.0 843.6,1089.1 842.2,1089.2 840.8,1089.3 839.4,1089.2 838.0,1088.6Z" fill="#191919"/>
<path d="M576.0,1166.4 579.4,1162.5 582.9,1161.6 586.3,1161.2 589.7,1161.0 593.1,1161.0 596.6,1161.0 600.0,1161.0 603.4,1161.0 606.9,1161.0 610.3,1161.0 613.7,1161.2 617.1,1161.6 620.6,1162.5 624.0,1166.4 624.0,1166.4 620.6,1170.3 617.1,1171.2 613.7,1171.6 610.3,1171.8 606.9,1171.8 603.4,1171.8 600.0,1171.9 596.6,1171.8 593.1,1171.8 589.7,1171.8 586.3,1171.6 582.9,1171.2 579.4,1170.3 576.0,1166.4Z" fill="#000000"/>
<path d="M633.6,1166.2 636.8,1163.1 640.1,1162.3 643.3,1161.9 646.6,1161.8 649.8,1161.8 653.1,1161.8 656.3,1161.8 659.5,1161.8 662.8,1161.8 666.0,1161.8 669.3,1161.9 672.5,1162.3 675.8,1163.1 679.0,1166.2 679.0,1166.2 675.8,1169.3 672.5,1170.1 669.3,1170.5 666.0,1170.6 662.8,1170.6 659.5,1170.6 656.3,1170.7 653.1,1170.6 649.8,1170.6 646.6,1170.6 643.3,1170.5 640.1,1170.1 636.8,1169.3 633.6,1166.2Z" fill="#000000"/>
<path d="M531.4,1233.0 534.1,1230.7 536.8,1230.3 539.5,1230.1 542.2,1230.1 544.9,1230.2 547.6,1230.3 550.3,1230.4 553.0,1230.4 555.7,1230.4 558.4,1230.4 561.1,1230.3 563.8,1230.3 566.5,1230.4 569.2,1230.6 571.9,1231.1 574.6,1233.4 574.6,1233.4 571.9,1236.7 569.2,1237.3 566.5,1237.4 563.8,1237.2 561.1,1236.7 558.4,1236.2 555.7,1235.9 553.0,1235.7 550.3,1235.8 547.6,1236.1 544.9,1236.6 542.2,1237.0 539.5,1237.2 536.8,1237.0 534.1,1236.4 531.4,1233.0Z" fill="#040404"/>
<path d="M586.8,1233.9 589.6,1231.0 592.4,1230.3 595.2,1230.1 597.9,1230.1 600.7,1230.2 603.5,1230.3 606.3,1230.4 609.1,1230.4 611.9,1230.4 614.7,1230.4 617.5,1230.3 620.2,1230.3 623.0,1230.4 625.8,1230.6 628.6,1231.2 631.4,1234.1 631.4,1234.1 628.6,1238.2 625.8,1239.0 623.0,1239.2 620.2,1239.0 617.5,1238.6 614.7,1238.2 611.9,1237.8 609.1,1237.6 606.3,1237.7 603.5,1238.1 600.7,1238.6 597.9,1239.0 595.2,1239.3 592.4,1239.1 589.6,1238.3 586.8,1233.9Z" fill="#000000"/>
<path d="M644.2,1234.5 646.8,1231.9 649.4,1231.4 652.0,1231.3 654.6,1231.3 657.1,1231.4 659.7,1231.5 662.3,1231.6 664.9,1231.7 667.5,1231.7 670.1,1231.7 672.7,1231.6 675.2,1231.6 677.8,1231.7 680.4,1231.9 683.0,1232.4 685.6,1235.0 685.6,1235.0 683.0,1238.6 680.4,1239.3 677.8,1239.4 675.2,1239.1 672.7,1238.6 670.1,1238.0 667.5,1237.5 664.9,1237.3 662.3,1237.4 659.7,1237.9 657.1,1238.4 654.6,1238.9 652.0,1239.2 649.4,1239.1 646.8,1238.4 644.2,1234.5Z" fill="#040404"/>
<path d="M698.5,1235.1 701.1,1232.8 703.6,1232.3 706.2,1232.2 708.8,1232.2 711.3,1232.3 713.9,1232.4 716.4,1232.5 719.0,1232.5 721.6,1232.5 724.1,1232.4 726.7,1232.3 729.2,1232.2 731.8,1232.2 734.4,1232.3 736.9,1232.8 739.5,1235.1 739.5,1235.1 736.9,1238.5 734.4,1239.1 731.8,1239.0 729.2,1238.5 726.7,1237.8 724.1,1237.0 721.6,1236.3 719.0,1236.1 716.4,1236.3 713.9,1237.0 711.3,1237.8 708.8,1238.5 706.2,1239.0 703.6,1239.1 701.1,1238.5 698.5,1235.1Z" fill="#0a0a0a"/>
<path d="M751.5,1235.2 754.2,1232.5 756.9,1231.8 759.7,1231.5 762.4,1231.2 765.1,1231.0 767.8,1230.7 770.5,1230.5 773.2,1230.4 776.0,1230.5 778.7,1230.7 781.4,1231.0 784.1,1231.2 786.8,1231.5 789.6,1231.8 792.3,1232.4 795.0,1234.9 795.0,1234.9 792.3,1238.6 789.6,1239.3 786.8,1239.4 784.1,1239.0 781.4,1238.4 778.7,1237.6 776.0,1237.0 773.2,1236.8 770.5,1237.0 767.8,1237.7 765.1,1238.5 762.4,1239.3 759.7,1239.8 756.9,1239.9 754.2,1239.2 751.5,1235.2Z" fill="#000000"/>
<path d="M807.5,1236.2 810.3,1233.4 813.1,1232.6 815.8,1232.1 818.6,1231.8 821.4,1231.4 824.2,1231.0 827.0,1230.7 829.8,1230.5 832.5,1230.5 835.3,1230.6 838.1,1230.7 840.9,1230.9 843.7,1231.0 846.4,1231.2 849.2,1231.7 852.0,1234.2 852.0,1234.2 849.2,1238.1 846.4,1238.9 843.7,1239.0 840.9,1238.6 838.1,1238.0 835.3,1237.2 832.5,1236.7 829.8,1236.5 827.0,1236.9 824.2,1237.7 821.4,1238.8 818.6,1239.7 815.8,1240.4 813.1,1240.6 810.3,1240.1 807.5,1236.2Z" fill="#000000"/>
<path d="M582.4,1307.4 585.7,1304.5 588.9,1303.7 592.2,1303.4 595.4,1303.3 598.7,1303.3 601.9,1303.3 605.2,1303.2 608.5,1303.3 611.7,1303.3 615.0,1303.3 618.2,1303.4 621.5,1303.7 624.7,1304.5 628.0,1307.4 628.0,1307.4 624.7,1310.3 621.5,1311.1 618.2,1311.4 615.0,1311.5 611.7,1311.5 608.5,1311.5 605.2,1311.6 601.9,1311.5 598.7,1311.5 595.4,1311.5 592.2,1311.4 588.9,1311.1 585.7,1310.3 582.4,1307.4Z" fill="#000000"/>
<path d="M636.0,1307.2 639.3,1304.8 642.6,1304.2 645.9,1303.9 649.1,1303.8 652.4,1303.8 655.7,1303.8 659.0,1303.9 662.3,1303.9 665.6,1303.9 668.9,1303.9 672.1,1304.0 675.4,1304.3 678.7,1304.9 682.0,1307.4 682.0,1307.4 678.7,1309.8 675.4,1310.4 672.1,1310.7 668.9,1310.8 665.6,1310.8 662.3,1310.8 659.0,1310.8 655.7,1310.7 652.4,1310.7 649.1,1310.7 645.9,1310.6 642.6,1310.3 639.3,1309.7 636.0,1307.2Z" fill="#000000"/>
<path d="M693.0,1305.0 695.9,1303.4 698.7,1303.1 701.6,1303.0 704.4,1303.0 707.3,1303.0 710.1,1303.1 713.0,1303.2 715.9,1303.2 718.7,1303.3 721.6,1303.4 724.4,1303.5 727.3,1303.8 730.1,1304.3 733.0,1306.0 733.0,1306.0 730.1,1307.6 727.3,1307.9 724.4,1308.0 721.6,1308.0 718.7,1308.0 715.9,1307.9 713.0,1307.8 710.1,1307.8 707.3,1307.7 704.4,1307.6 701.6,1307.5 698.7,1307.2 695.9,1306.7 693.0,1305.0Z" fill="#141414"/>
<ellipse cx="694.5" cy="1299.5" rx="2.4" ry="1.6" fill="#222"/>
<path d="M743.0,1305.6 746.3,1302.9 749.6,1302.1 752.9,1301.8 756.1,1301.5 759.4,1301.4 762.7,1301.3 766.0,1301.1 769.3,1301.0 772.6,1300.9 775.9,1300.8 779.1,1300.8 782.4,1301.0 785.7,1301.5 789.0,1304.0 789.0,1304.0 785.7,1306.7 782.4,1307.5 779.1,1307.8 775.9,1308.1 772.6,1308.2 769.3,1308.3 766.0,1308.5 762.7,1308.6 759.4,1308.7 756.1,1308.8 752.9,1308.8 749.6,1308.6 746.3,1308.1 743.0,1305.6Z" fill="#000000"/>
<path d="M799.0,1303.2 802.6,1300.9 806.1,1300.2 809.7,1299.8 813.3,1299.6 816.9,1299.5 820.4,1299.4 824.0,1299.2 827.6,1299.1 831.1,1299.0 834.7,1298.9 838.3,1298.9 841.9,1299.0 845.4,1299.5 849.0,1301.6 849.0,1301.6 845.4,1303.9 841.9,1304.6 838.3,1305.0 834.7,1305.2 831.1,1305.3 827.6,1305.4 824.0,1305.6 820.4,1305.7 816.9,1305.8 813.3,1305.9 809.7,1305.9 806.1,1305.8 802.6,1305.3 799.0,1303.2Z" fill="#000000"/>
<path d="M585.0,1373.4 588.3,1369.2 591.6,1368.1 594.9,1367.7 598.1,1367.5 601.4,1367.5 604.7,1367.5 608.0,1367.5 611.3,1367.5 614.6,1367.5 617.9,1367.5 621.1,1367.7 624.4,1368.1 627.7,1369.2 631.0,1373.4 631.0,1373.4 627.7,1377.6 624.4,1378.7 621.1,1379.1 617.9,1379.3 614.6,1379.3 611.3,1379.3 608.0,1379.4 604.7,1379.3 601.4,1379.3 598.1,1379.3 594.9,1379.1 591.6,1378.7 588.3,1377.6 585.0,1373.4Z" fill="#000000"/>
<path d="M803.0,1370.6 806.4,1367.8 809.9,1366.9 813.3,1366.4 816.7,1366.1 820.1,1365.9 823.6,1365.7 827.0,1365.5 830.4,1365.4 833.9,1365.2 837.3,1365.1 840.7,1365.0 844.1,1365.2 847.6,1365.9 851.0,1369.4 851.0,1369.4 847.6,1373.0 844.1,1373.9 840.7,1374.3 837.3,1374.4 833.9,1374.5 830.4,1374.5 827.0,1374.5 823.6,1374.4 820.1,1374.4 816.7,1374.4 813.3,1374.2 809.9,1373.9 806.4,1373.3 803.0,1370.6Z" fill="#000000"/>
<path d="M534,1441.6 L700,1440.6 L800,1438.6 L852,1435.8" fill="none" stroke="#000" stroke-width="9.6" stroke-linecap="round" stroke-linejoin="round"/>
<path d="M527.0,1442.6 531.6,1438.9 536.3,1437.7 540.9,1437.0 545.6,1436.5 550.2,1436.3 554.9,1436.2 559.5,1436.1 564.1,1436.2 568.8,1436.3 573.4,1436.5 578.1,1437.0 582.7,1437.7 587.4,1438.9 592.0,1442.6 592.0,1442.6 587.4,1446.3 582.7,1447.5 578.1,1448.2 573.4,1448.7 568.8,1448.9 564.1,1449.0 559.5,1449.0 554.9,1449.0 550.2,1448.9 545.6,1448.7 540.9,1448.2 536.3,1447.5 531.6,1446.3 527.0,1442.6Z" fill="#000000"/>
<path d="M581.0,1443.4 585.8,1439.7 590.6,1438.4 595.4,1437.7 600.1,1437.2 604.9,1436.9 609.7,1436.8 614.5,1436.8 619.3,1436.7 624.1,1436.8 628.9,1437.0 633.6,1437.4 638.4,1438.1 643.2,1439.3 648.0,1443.0 648.0,1443.0 643.2,1446.7 638.4,1448.0 633.6,1448.7 628.9,1449.2 624.1,1449.5 619.3,1449.6 614.5,1449.7 609.7,1449.7 604.9,1449.6 600.1,1449.4 595.4,1449.0 590.6,1448.3 585.8,1447.1 581.0,1443.4Z" fill="#000000"/>
<path d="M637.0,1443.0 641.7,1439.2 646.4,1437.9 651.1,1437.1 655.9,1436.6 660.6,1436.3 665.3,1436.1 670.0,1436.0 674.7,1436.0 679.4,1436.0 684.1,1436.2 688.9,1436.6 693.6,1437.2 698.3,1438.4 703.0,1442.0 703.0,1442.0 698.3,1445.8 693.6,1447.1 688.9,1447.9 684.1,1448.4 679.4,1448.7 674.7,1448.9 670.0,1449.0 665.3,1449.0 660.6,1449.0 655.9,1448.8 651.1,1448.4 646.4,1447.8 641.7,1446.6 637.0,1443.0Z" fill="#000000"/>
<path d="M692.0,1442.2 696.7,1438.4 701.4,1437.1 706.1,1436.3 710.9,1435.8 715.6,1435.4 720.3,1435.3 725.0,1435.1 729.7,1435.1 734.4,1435.1 739.1,1435.3 743.9,1435.6 748.6,1436.2 753.3,1437.4 758.0,1441.0 758.0,1441.0 753.3,1444.8 748.6,1446.1 743.9,1446.9 739.1,1447.4 734.4,1447.8 729.7,1447.9 725.0,1448.0 720.3,1448.1 715.6,1448.1 710.9,1447.9 706.1,1447.6 701.4,1447.0 696.7,1445.8 692.0,1442.2Z" fill="#000000"/>
<path d="M747.0,1441.2 751.6,1437.4 756.3,1436.0 760.9,1435.1 765.6,1434.5 770.2,1434.2 774.9,1433.9 779.5,1433.8 784.1,1433.6 788.8,1433.6 793.4,1433.7 798.1,1434.0 802.7,1434.6 807.4,1435.6 812.0,1439.2 812.0,1439.2 807.4,1443.0 802.7,1444.4 798.1,1445.3 793.4,1445.9 788.8,1446.2 784.1,1446.5 779.5,1446.7 774.9,1446.8 770.2,1446.8 765.6,1446.7 760.9,1446.4 756.3,1445.8 751.6,1444.8 747.0,1441.2Z" fill="#000000"/>
<path d="M800.0,1439.6 804.3,1435.4 808.6,1433.8 812.9,1432.7 817.1,1432.0 821.4,1431.5 825.7,1431.1 830.0,1430.8 834.3,1430.5 838.6,1430.3 842.9,1430.3 847.1,1430.5 851.4,1430.9 855.7,1431.9 860.0,1435.6 860.0,1435.6 855.7,1439.8 851.4,1441.4 847.1,1442.5 842.9,1443.2 838.6,1443.7 834.3,1444.1 830.0,1444.4 825.7,1444.7 821.4,1444.9 817.1,1444.9 812.9,1444.7 808.6,1444.3 804.3,1443.3 800.0,1439.6Z" fill="#000000"/>
</g>
<g filter="url(#bt)">
<rect x="158.00" y="1063.00" width="351.60" height="61.00" fill="none" stroke="#000" stroke-width="3.3"/>
<rect x="158.00" y="1133.40" width="351.60" height="61.60" fill="none" stroke="#000" stroke-width="3.3"/>
<rect x="158.00" y="1203.40" width="350.00" height="62.10" fill="none" stroke="#000" stroke-width="3.3"/>
<rect x="158.00" y="1275.60" width="350.00" height="60.90" fill="none" stroke="#000" stroke-width="3.3"/>
<rect x="156.00" y="1344.40" width="350.00" height="60.60" fill="none" stroke="#000" stroke-width="3.3"/>
<rect x="156.00" y="1413.00" width="350.00" height="63.40" fill="none" stroke="#000" stroke-width="3.3"/>
<rect x="518.00" y="1063.00" width="350.00" height="61.00" fill="none" stroke="#000" stroke-width="3.3"/>
<rect x="518.00" y="1133.40" width="350.00" height="61.60" fill="none" stroke="#000" stroke-width="3.3"/>
<rect x="518.00" y="1205.00" width="350.00" height="60.50" fill="none" stroke="#000" stroke-width="3.3"/>
<rect x="516.00" y="1274.00" width="350.00" height="61.00" fill="none" stroke="#000" stroke-width="3.3"/>
<rect x="516.00" y="1344.40" width="350.00" height="60.60" fill="none" stroke="#000" stroke-width="3.3"/>
<rect x="516.00" y="1413.00" width="350.00" height="63.40" fill="none" stroke="#000" stroke-width="3.3"/>
<line x1="158.00" y1="1485.80" x2="511.60" y2="1485.80" stroke="#000" stroke-width="4.0" stroke-linecap="butt"/>
<line x1="516.00" y1="1485.80" x2="870.00" y2="1485.80" stroke="#000" stroke-width="4.0" stroke-linecap="butt"/>
</g>
</svg>
</body></html>
